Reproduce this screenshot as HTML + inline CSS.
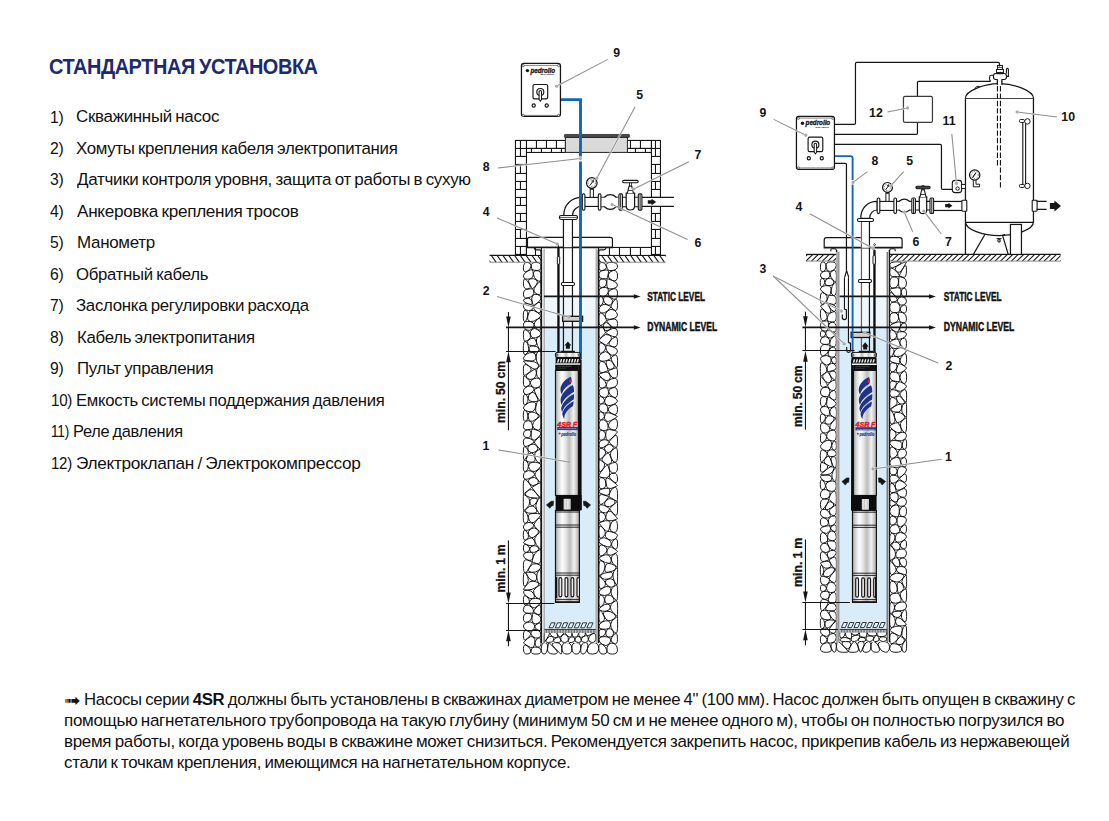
<!DOCTYPE html>
<html lang="ru">
<head>
<meta charset="utf-8">
<title>Стандартная установка</title>
<style>
html,body{margin:0;padding:0;background:#fff;}
body{width:1109px;height:821px;position:relative;overflow:hidden;font-family:"Liberation Sans",sans-serif;color:#111;}
.t{position:absolute;white-space:nowrap;transform-origin:0 0;margin:0;padding:0;line-height:20px;letter-spacing:-0.3px;word-spacing:-1px;}
h1.t{font-weight:bold;color:#1b2a72;letter-spacing:-0.5px;}
ol{list-style:none;margin:0;padding:0;}
b{font-weight:bold;}
</style>
</head>
<body>
<svg width="1109" height="821" viewBox="0 0 1109 821" font-family="'Liberation Sans', sans-serif" style="position:absolute;left:0;top:0">
<defs>
<linearGradient id="pg" x1="0" x2="1" y1="0" y2="0">
<stop offset="0" stop-color="#8d8d8d"/><stop offset="0.1" stop-color="#cfcfcf"/><stop offset="0.28" stop-color="#fdfdfd"/><stop offset="0.42" stop-color="#e9e9e9"/><stop offset="0.6" stop-color="#bdbdbd"/><stop offset="0.78" stop-color="#f1f1f1"/><stop offset="0.92" stop-color="#c4c4c4"/><stop offset="1" stop-color="#8a8a8a"/>
</linearGradient>
<linearGradient id="pgh" x1="0" x2="1" y1="0" y2="0">
<stop offset="0" stop-color="#555"/><stop offset="0.12" stop-color="#ddd"/><stop offset="0.3" stop-color="#fff"/><stop offset="0.42" stop-color="#bbb"/><stop offset="0.55" stop-color="#fff"/><stop offset="0.7" stop-color="#ccc"/><stop offset="0.85" stop-color="#fff"/><stop offset="1" stop-color="#555"/>
</linearGradient>
<linearGradient id="pgs" x1="0" x2="1" y1="0" y2="0">
<stop offset="0" stop-color="#c9c9c9"/><stop offset="0.4" stop-color="#f3f3f3"/><stop offset="1" stop-color="#c0c0c0"/>
</linearGradient>
</defs>
<g id="left-diagram">
<path d="M523.4,267.9Q523.4,273.4 527.3,271.2Q531.2,268.9 531.1,265.7Q530.9,262.4 527.2,262.4Q523.4,262.4 523.4,267.9Z M532.4,269.6Q531.4,268.9 531.3,265.7Q531.1,262.4 536.1,262.4Q541.1,262.4 541.1,266.5Q541.1,270.6 537.2,270.5Q533.3,270.3 532.4,269.6Z M530.4,278.7Q527.2,279.6 525.3,278.9Q523.4,278.2 523.4,275.9Q523.4,273.6 527.4,271.3Q531.3,269.1 532.2,269.8Q533.1,270.5 533.3,274.2Q533.6,277.8 530.4,278.7Z M533.5,274.2Q533.8,277.9 536.4,279.7Q539.0,281.6 540.0,281.3Q541.1,281.1 541.1,275.9Q541.1,270.8 537.2,270.7Q533.3,270.5 533.5,274.2Z M527.6,289.0Q523.4,289.4 523.4,283.9Q523.4,278.3 525.2,279.1Q527.1,279.8 529.4,284.1Q531.8,288.5 527.6,289.0Z M532.5,288.7Q531.9,288.4 529.6,284.1Q527.2,279.8 530.4,278.9Q533.7,278.0 536.3,279.9Q538.9,281.7 536.0,285.3Q533.1,288.9 532.5,288.7Z M533.7,291.2Q533.0,289.1 532.4,288.9Q531.8,288.6 527.6,289.1Q523.4,289.6 523.4,294.1Q523.4,298.5 527.1,298.0Q530.8,297.5 532.7,295.4Q534.5,293.3 533.7,291.2Z M533.9,291.1Q533.2,289.0 536.1,285.4Q539.0,281.8 540.1,281.6Q541.1,281.3 541.1,288.6Q541.2,295.9 537.9,294.5Q534.7,293.2 533.9,291.1Z M532.0,301.6Q530.8,297.7 527.1,298.2Q523.4,298.7 523.4,300.5Q523.4,302.3 528.3,303.9Q533.2,305.5 532.0,301.6Z M537.3,302.9Q533.5,305.7 533.4,305.6Q533.3,305.4 532.1,301.5Q531.0,297.6 532.8,295.5Q534.6,293.4 537.9,294.7Q541.1,296.0 541.1,298.1Q541.1,300.2 537.3,302.9Z M533.3,307.7Q533.3,309.5 530.9,310.2Q528.6,311.0 526.0,310.0Q523.4,309.1 523.4,305.7Q523.4,302.4 528.3,304.0Q533.2,305.6 533.3,305.7Q533.4,305.9 533.3,307.7Z M537.4,303.1Q541.1,300.3 541.1,307.6Q541.1,315.0 537.3,312.2Q533.5,309.5 533.5,307.7Q533.6,305.9 537.4,303.1Z M523.3,315.8Q523.3,309.2 525.9,310.2Q528.5,311.2 527.7,316.0Q526.8,320.8 525.1,321.6Q523.3,322.5 523.3,315.8Z M531.0,310.4Q528.7,311.2 527.8,316.0Q526.9,320.9 530.4,321.5Q533.8,322.0 537.5,319.1Q541.1,316.2 541.1,315.6Q541.1,315.1 537.2,312.4Q533.4,309.6 531.0,310.4Z M523.4,325.3Q523.4,322.6 525.1,321.8Q526.9,321.1 530.3,321.6Q533.7,322.2 534.0,324.6Q534.3,327.0 531.9,329.2Q529.5,331.5 526.4,329.8Q523.4,328.1 523.4,325.3Z M534.2,324.6Q533.9,322.2 537.5,319.2Q541.2,316.3 541.2,324.3Q541.2,332.2 537.8,329.6Q534.5,326.9 534.2,324.6Z M526.4,330.0Q523.3,328.2 523.4,334.6Q523.4,341.0 525.0,341.1Q526.7,341.2 528.9,339.6Q531.1,337.9 530.3,334.8Q529.4,331.7 526.4,330.0Z M530.4,334.8Q529.6,331.6 532.0,329.4Q534.5,327.1 537.8,329.8Q541.1,332.4 541.1,333.7Q541.1,335.1 538.3,336.6Q535.5,338.2 533.4,338.0Q531.3,337.9 530.4,334.8Z M529.0,339.7Q531.2,338.1 533.3,338.2Q535.4,338.4 536.4,342.2Q537.3,345.9 532.9,345.8Q528.6,345.6 527.7,343.5Q526.8,341.3 529.0,339.7Z M540.5,350.0Q541.2,350.0 541.2,342.6Q541.2,335.2 538.4,336.8Q535.6,338.4 536.5,342.2Q537.5,345.9 538.7,348.0Q539.9,350.0 540.5,350.0Z M526.2,354.2Q523.3,356.5 523.3,348.8Q523.4,341.2 525.0,341.3Q526.7,341.5 527.5,343.6Q528.4,345.8 528.8,348.8Q529.1,351.9 526.2,354.2Z M537.9,351.5Q539.8,350.1 538.6,348.1Q537.3,346.1 533.0,345.9Q528.6,345.8 529.0,348.9Q529.3,351.9 532.6,352.4Q536.0,352.8 537.9,351.5Z M536.0,357.2Q536.0,361.4 529.7,361.0Q523.4,360.6 523.4,358.6Q523.4,356.6 526.3,354.4Q529.2,352.1 532.6,352.5Q535.9,353.0 536.0,357.2Z M536.1,357.2Q536.2,361.4 537.9,363.6Q539.6,365.8 540.4,365.8Q541.2,365.8 541.2,358.0Q541.2,350.3 540.5,350.3Q539.9,350.3 538.0,351.6Q536.1,353.0 536.1,357.2Z M529.1,372.6Q533.6,369.5 528.5,365.8Q523.3,362.0 523.4,368.7Q523.4,375.3 524.0,375.5Q524.6,375.7 529.1,372.6Z M528.5,365.7Q533.7,369.4 534.9,369.2Q536.1,369.1 537.8,367.5Q539.5,365.9 537.7,363.7Q536.0,361.6 529.7,361.1Q523.4,360.7 523.4,361.3Q523.4,362.0 528.5,365.7Z M527.2,378.1Q524.7,375.8 529.2,372.7Q533.7,369.6 534.9,369.4Q536.2,369.2 536.4,373.2Q536.6,377.1 533.2,378.8Q529.8,380.5 527.2,378.1Z M538.0,367.6Q536.3,369.2 536.5,373.1Q536.7,377.0 538.9,378.2Q541.2,379.5 541.2,372.7Q541.2,366.0 540.4,366.0Q539.6,366.0 538.0,367.6Z M524.0,375.7Q523.4,375.5 523.4,382.0Q523.3,388.4 526.9,386.6Q530.5,384.8 530.1,382.7Q529.7,380.6 527.1,378.3Q524.6,375.9 524.0,375.7Z M533.3,379.0Q529.9,380.7 530.3,382.8Q530.7,384.8 532.6,386.8Q534.5,388.8 537.8,387.6Q541.1,386.3 541.1,383.0Q541.1,379.7 538.9,378.5Q536.7,377.3 533.3,379.0Z M534.1,389.9Q533.9,390.9 530.8,393.0Q527.7,395.1 525.5,394.3Q523.4,393.4 523.4,390.9Q523.4,388.5 527.0,386.7Q530.5,385.0 532.4,386.9Q534.3,388.9 534.1,389.9Z M536.4,395.6Q534.2,390.9 534.3,390.0Q534.5,389.0 537.8,387.7Q541.1,386.5 541.1,393.5Q541.2,400.5 539.9,400.4Q538.7,400.3 536.4,395.6Z M528.0,398.5Q528.5,401.7 525.9,404.3Q523.3,406.9 523.3,400.2Q523.3,393.6 525.5,394.5Q527.6,395.4 528.0,398.5Z M528.2,398.5Q527.7,395.3 530.9,393.1Q534.0,391.0 536.3,395.7Q538.6,400.4 537.7,401.0Q536.7,401.7 532.7,401.7Q528.7,401.7 528.2,398.5Z M523.4,408.0Q523.4,407.0 526.0,404.4Q528.6,401.9 532.6,401.9Q536.7,401.8 535.6,406.8Q534.5,411.7 531.1,411.8Q527.8,411.8 525.6,410.4Q523.4,408.9 523.4,408.0Z M537.4,413.8Q534.7,411.7 535.8,406.8Q536.8,401.9 537.8,401.2Q538.7,400.5 539.9,400.6Q541.2,400.7 541.2,408.4Q541.2,416.0 540.6,415.9Q540.1,415.9 537.4,413.8Z M525.5,410.5Q523.3,409.1 523.3,415.7Q523.3,422.4 525.8,421.1Q528.2,419.8 527.9,415.9Q527.7,412.0 525.5,410.5Z M530.3,421.1Q532.2,422.3 536.1,419.2Q540.0,416.0 537.3,414.0Q534.6,411.9 531.2,412.0Q527.8,412.0 528.1,415.9Q528.3,419.8 530.3,421.1Z M525.8,421.3Q528.3,420.0 530.2,421.3Q532.1,422.5 532.4,425.6Q532.7,428.7 532.1,429.0Q531.4,429.3 527.4,429.7Q523.4,430.1 523.4,426.4Q523.4,422.6 525.8,421.3Z M532.6,425.6Q532.3,422.5 536.2,419.3Q540.0,416.1 540.6,416.2Q541.1,416.2 541.1,423.8Q541.2,431.4 537.0,430.0Q532.9,428.7 532.6,425.6Z M531.0,433.8Q530.5,438.1 527.0,437.8Q523.4,437.5 523.4,433.9Q523.4,430.3 527.4,429.9Q531.4,429.5 531.0,433.8Z M537.0,430.2Q532.8,428.9 532.2,429.2Q531.6,429.5 531.1,433.8Q530.7,438.1 532.5,439.8Q534.3,441.5 537.7,438.0Q541.1,434.4 541.1,433.0Q541.1,431.5 537.0,430.2Z M523.4,441.8Q523.4,437.7 527.0,438.0Q530.5,438.3 532.4,440.0Q534.2,441.6 534.1,442.0Q534.1,442.4 530.3,444.7Q526.6,446.9 525.0,446.4Q523.4,445.9 523.4,441.8Z M534.3,442.1Q534.3,442.5 536.8,445.7Q539.4,449.0 540.3,449.2Q541.1,449.4 541.2,442.0Q541.2,434.5 537.8,438.1Q534.4,441.7 534.3,442.1Z M524.9,446.6Q526.5,447.1 527.9,449.9Q529.2,452.6 527.2,456.2Q525.1,459.8 524.2,459.9Q523.3,459.9 523.3,453.0Q523.3,446.0 524.9,446.6Z M530.4,444.8Q534.2,442.6 536.7,445.8Q539.3,449.1 536.5,451.0Q533.8,452.9 531.6,452.7Q529.4,452.5 528.0,449.8Q526.6,447.1 530.4,444.8Z M526.9,461.2Q525.2,459.9 527.3,456.3Q529.4,452.7 531.6,452.9Q533.7,453.1 534.9,457.4Q536.0,461.7 532.3,462.1Q528.6,462.5 526.9,461.2Z M540.3,449.4Q539.4,449.3 536.6,451.2Q533.9,453.1 535.0,457.4Q536.1,461.7 538.7,462.8Q541.2,463.8 541.2,456.7Q541.1,449.6 540.3,449.4Z M524.2,460.1Q523.4,460.1 523.3,466.5Q523.3,473.0 525.9,471.3Q528.4,469.6 528.4,466.1Q528.4,462.7 526.8,461.4Q525.1,460.1 524.2,460.1Z M531.7,471.1Q528.5,469.6 528.6,466.1Q528.6,462.7 532.4,462.3Q536.1,461.9 538.6,463.0Q541.1,464.0 541.1,465.2Q541.1,466.5 538.0,469.6Q534.8,472.7 531.7,471.1Z M523.4,475.9Q523.4,473.2 525.9,471.5Q528.4,469.8 531.6,471.3Q534.7,472.8 534.7,474.4Q534.7,475.9 530.8,477.8Q527.0,479.7 525.2,479.2Q523.4,478.7 523.4,475.9Z M537.4,479.2Q540.0,482.4 540.6,482.5Q541.2,482.7 541.2,474.6Q541.2,466.6 538.0,469.7Q534.9,472.9 534.9,474.4Q534.9,476.0 537.4,479.2Z M529.3,483.6Q531.7,487.2 531.6,487.4Q531.6,487.5 527.6,490.8Q523.6,494.1 523.5,494.1Q523.4,494.1 523.3,486.5Q523.3,478.9 525.1,479.4Q526.9,480.0 529.3,483.6Z M529.4,483.5Q527.0,479.9 530.9,478.0Q534.7,476.1 537.3,479.3Q539.9,482.5 535.9,484.8Q531.9,487.1 529.4,483.5Z M535.7,492.6Q531.7,487.6 527.7,490.9Q523.7,494.2 526.8,496.1Q529.9,498.0 534.3,498.0Q538.8,498.1 539.2,497.9Q539.7,497.6 535.7,492.6Z M536.0,484.9Q531.9,487.3 531.9,487.4Q531.8,487.6 535.8,492.6Q539.8,497.6 540.5,497.5Q541.2,497.5 541.1,490.2Q541.1,482.9 540.6,482.8Q540.0,482.6 536.0,484.9Z M523.3,502.4Q523.3,510.5 523.7,510.5Q524.0,510.6 526.8,508.1Q529.7,505.7 529.7,501.9Q529.8,498.1 526.7,496.2Q523.6,494.3 523.5,494.3Q523.3,494.3 523.3,502.4Z M529.9,501.9Q529.9,498.1 534.3,498.2Q538.8,498.2 536.7,502.0Q534.6,505.7 532.2,505.7Q529.9,505.7 529.9,501.9Z M525.9,512.1Q524.1,510.7 526.9,508.3Q529.8,505.9 532.2,505.9Q534.6,505.9 536.4,509.5Q538.2,513.1 532.9,513.3Q527.6,513.5 525.9,512.1Z M539.8,513.7Q538.4,513.0 536.6,509.4Q534.8,505.8 536.8,502.0Q538.9,498.3 539.4,498.0Q539.8,497.8 540.5,497.8Q541.2,497.7 541.2,506.1Q541.2,514.4 539.8,513.7Z M523.7,510.8Q523.3,510.7 523.3,517.7Q523.3,524.8 526.1,523.1Q528.9,521.5 528.2,517.6Q527.5,513.7 525.7,512.2Q524.0,510.8 523.7,510.8Z M531.3,522.6Q529.1,521.5 528.4,517.6Q527.7,513.6 533.0,513.4Q538.3,513.3 539.7,513.9Q541.1,514.6 541.1,514.8Q541.1,515.0 537.3,519.4Q533.6,523.7 531.3,522.6Z M523.4,527.0Q523.4,524.9 526.2,523.3Q529.0,521.7 531.2,522.8Q533.5,523.8 533.8,525.1Q534.2,526.4 530.7,528.8Q527.2,531.2 525.3,530.1Q523.4,529.0 523.4,527.0Z M534.1,525.1Q534.4,526.4 537.2,529.1Q540.0,531.9 540.6,531.9Q541.1,531.9 541.2,523.5Q541.2,515.1 537.4,519.5Q533.7,523.8 534.1,525.1Z M528.3,534.4Q529.5,537.5 526.4,539.6Q523.3,541.8 523.3,535.5Q523.3,529.2 525.2,530.3Q527.1,531.4 528.3,534.4Z M530.8,528.9Q534.3,526.5 537.1,529.3Q539.9,532.0 536.7,534.9Q533.5,537.9 531.6,537.7Q529.7,537.5 528.5,534.4Q527.3,531.3 530.8,528.9Z M523.4,542.5Q523.4,543.0 526.7,544.6Q530.0,546.2 533.1,545.6Q536.1,545.0 534.8,541.6Q533.5,538.1 531.5,537.9Q529.6,537.7 526.5,539.8Q523.4,541.9 523.4,542.5Z M534.9,541.5Q536.2,545.0 538.3,547.1Q540.3,549.1 540.7,549.2Q541.2,549.3 541.2,540.7Q541.2,532.1 540.6,532.1Q540.0,532.1 536.8,535.1Q533.7,538.0 534.9,541.5Z M523.4,548.0Q523.4,543.1 526.7,544.8Q530.0,546.4 529.6,549.1Q529.3,551.8 526.3,552.3Q523.4,552.9 523.4,548.0Z M529.8,549.1Q529.5,551.8 531.8,552.3Q534.2,552.9 537.2,551.1Q540.2,549.2 538.2,547.2Q536.1,545.2 533.1,545.8Q530.2,546.4 529.8,549.1Z M526.4,552.5Q529.3,552.0 531.7,552.5Q534.1,553.1 533.0,557.4Q531.9,561.7 527.6,559.9Q523.4,558.1 523.4,555.6Q523.4,553.1 526.4,552.5Z M541.1,557.2Q541.1,549.5 540.7,549.4Q540.3,549.4 537.3,551.2Q534.3,553.1 533.1,557.4Q532.0,561.7 532.2,562.0Q532.4,562.3 536.8,563.6Q541.1,564.9 541.1,557.2Z M529.5,567.2Q532.3,562.5 532.1,562.2Q531.9,561.9 527.6,560.1Q523.4,558.3 523.4,565.2Q523.4,572.2 524.6,572.3Q525.7,572.4 526.2,572.2Q526.7,571.9 529.5,567.2Z M536.8,563.8Q532.4,562.5 529.6,567.2Q526.7,571.9 531.6,572.3Q536.4,572.6 538.8,570.2Q541.1,567.9 541.1,566.4Q541.1,565.0 536.8,563.8Z M531.5,572.4Q526.7,572.1 526.3,572.3Q525.8,572.6 527.8,576.5Q529.8,580.3 533.3,581.0Q536.9,581.6 536.6,577.2Q536.4,572.7 531.5,572.4Z M536.8,577.2Q536.5,572.8 538.8,570.4Q541.2,568.0 541.2,576.3Q541.2,584.7 540.8,584.6Q540.4,584.5 538.7,583.0Q537.1,581.6 536.8,577.2Z M527.7,576.5Q529.6,580.4 526.5,584.8Q523.3,589.2 523.3,580.8Q523.3,572.4 524.5,572.5Q525.7,572.7 527.7,576.5Z M527.8,590.0Q532.1,590.0 536.2,587.3Q540.3,584.6 538.6,583.2Q536.9,581.8 533.3,581.1Q529.7,580.5 526.6,584.9Q523.4,589.3 523.4,589.6Q523.4,590.0 527.8,590.0Z M532.7,598.5Q535.4,597.9 533.8,594.1Q532.1,590.2 527.7,590.2Q523.4,590.1 523.4,591.9Q523.4,593.6 526.7,596.4Q529.9,599.2 532.7,598.5Z M533.9,594.0Q535.6,597.9 538.4,598.5Q541.2,599.2 541.2,592.1Q541.1,584.9 540.8,584.8Q540.4,584.7 536.3,587.4Q532.3,590.1 533.9,594.0Z M526.1,605.0Q523.4,605.7 523.4,599.7Q523.3,593.7 526.6,596.5Q529.9,599.3 529.4,601.8Q528.9,604.2 526.1,605.0Z M537.5,606.2Q533.9,609.5 531.5,606.9Q529.0,604.3 529.6,601.8Q530.1,599.3 532.8,598.7Q535.5,598.1 538.3,598.7Q541.1,599.4 541.1,601.1Q541.1,602.9 537.5,606.2Z M527.9,613.2Q523.4,613.1 523.4,609.5Q523.4,605.8 526.2,605.2Q528.9,604.5 531.3,607.0Q533.7,609.6 533.5,611.1Q533.3,612.5 532.8,612.9Q532.3,613.3 527.9,613.2Z M537.3,614.3Q541.1,616.2 541.1,609.6Q541.1,603.0 537.6,606.3Q534.0,609.6 533.7,611.1Q533.5,612.5 537.3,614.3Z M531.8,617.3Q531.3,621.1 527.3,622.1Q523.4,623.1 523.4,618.2Q523.4,613.3 527.9,613.4Q532.3,613.5 531.8,617.3Z M537.3,614.5Q533.4,612.7 533.0,613.1Q532.5,613.5 532.0,617.3Q531.5,621.2 533.2,623.0Q534.9,624.8 538.0,623.3Q541.1,621.7 541.1,619.0Q541.1,616.3 537.3,614.5Z M527.4,622.3Q523.4,623.2 523.4,626.1Q523.4,628.9 527.0,630.5Q530.7,632.1 532.6,630.2Q534.5,628.3 534.6,626.6Q534.8,625.0 533.1,623.2Q531.3,621.3 527.4,622.3Z M538.1,623.5Q541.1,621.9 541.1,626.9Q541.1,631.8 537.9,630.0Q534.7,628.3 534.8,626.6Q535.0,625.0 538.1,623.5Z M527.1,638.7Q523.4,642.5 523.4,635.8Q523.4,629.0 527.0,630.7Q530.6,632.3 530.7,633.7Q530.9,635.0 527.1,638.7Z M538.3,637.9Q535.6,638.7 533.3,636.9Q531.1,635.0 530.9,633.6Q530.8,632.3 532.7,630.4Q534.6,628.4 537.8,630.2Q541.1,632.0 541.1,634.5Q541.1,637.1 538.3,637.9Z M527.2,638.9Q523.4,642.6 523.4,642.8Q523.4,643.1 527.3,645.7Q531.2,648.4 532.7,647.4Q534.3,646.5 534.9,642.7Q535.5,638.9 533.2,637.0Q531.0,635.1 527.2,638.9Z M538.4,638.1Q541.1,637.2 541.1,642.5Q541.1,647.7 537.8,647.1Q534.5,646.5 535.1,642.7Q535.7,639.0 538.4,638.1Z M527.2,645.9Q523.4,643.2 523.4,648.7Q523.4,654.1 527.0,654.1Q530.5,654.1 530.8,651.3Q531.1,648.5 527.2,645.9Z M532.9,647.6Q531.3,648.5 531.0,651.3Q530.7,654.1 535.9,654.1Q541.1,654.1 541.1,651.0Q541.1,647.9 537.8,647.3Q534.4,646.7 532.9,647.6Z" fill="#fff" stroke="#111" stroke-width="0.95" stroke-linejoin="round"/>
<path d="M598.8,266.9Q598.8,271.3 603.0,270.3Q607.2,269.3 606.2,265.9Q605.2,262.4 602.0,262.4Q598.8,262.4 598.8,266.9Z M606.4,265.9Q607.4,269.3 608.3,270.2Q609.1,271.0 613.3,270.3Q617.5,269.6 617.5,266.0Q617.5,262.4 611.4,262.4Q605.3,262.4 606.4,265.9Z M598.8,275.1Q598.8,271.5 603.0,270.5Q607.2,269.5 608.1,270.3Q609.0,271.2 608.1,274.8Q607.3,278.4 607.0,278.6Q606.8,278.8 602.8,278.8Q598.8,278.8 598.8,275.1Z M608.3,274.8Q609.2,271.2 613.3,270.5Q617.5,269.8 617.5,276.0Q617.5,282.3 612.5,280.4Q607.4,278.5 608.3,274.8Z M602.6,287.4Q598.8,287.9 598.8,283.4Q598.8,279.0 602.8,279.0Q606.8,279.0 606.6,282.9Q606.4,286.9 602.6,287.4Z M613.3,288.6Q609.0,289.5 607.8,288.2Q606.6,286.9 606.8,283.0Q606.9,279.0 607.2,278.8Q607.4,278.6 612.4,280.5Q617.5,282.4 617.5,285.1Q617.5,287.8 613.3,288.6Z M608.1,292.4Q607.3,295.1 605.2,296.0Q603.2,296.9 601.0,296.1Q598.8,295.4 598.8,291.7Q598.8,288.1 602.6,287.6Q606.5,287.0 607.7,288.4Q608.9,289.7 608.1,292.4Z M610.6,297.5Q613.7,299.9 615.6,299.2Q617.5,298.6 617.5,293.3Q617.5,287.9 613.3,288.8Q609.1,289.7 608.3,292.5Q607.5,295.2 610.6,297.5Z M603.4,300.1Q603.7,303.1 601.2,305.3Q598.7,307.5 598.7,301.5Q598.7,295.5 600.9,296.3Q603.1,297.2 603.4,300.1Z M612.1,303.1Q613.6,300.0 610.5,297.7Q607.4,295.3 605.3,296.2Q603.2,297.1 603.5,300.1Q603.8,303.1 607.2,304.7Q610.7,306.2 612.1,303.1Z M607.4,310.9Q610.9,307.8 610.7,307.0Q610.6,306.3 607.2,304.8Q603.8,303.3 601.3,305.5Q598.8,307.7 598.8,309.7Q598.8,311.7 601.4,312.9Q604.0,314.0 607.4,310.9Z M615.6,299.4Q617.5,298.8 617.5,305.5Q617.5,312.3 614.3,310.0Q611.1,307.7 611.0,307.0Q610.8,306.2 612.3,303.2Q613.7,300.1 615.6,299.4Z M604.3,323.2Q602.3,325.4 600.5,325.4Q598.8,325.4 598.8,318.6Q598.8,311.9 601.4,313.1Q604.0,314.3 605.3,317.2Q606.6,320.2 606.4,320.5Q606.2,320.9 604.3,323.2Z M607.5,311.0Q611.0,307.9 614.2,310.2Q617.5,312.5 617.5,315.2Q617.5,318.0 612.1,319.0Q606.7,320.1 605.4,317.1Q604.1,314.2 607.5,311.0Z M603.9,328.8Q602.4,325.6 604.4,323.3Q606.4,321.1 609.4,324.5Q612.5,327.9 609.0,330.0Q605.5,332.1 603.9,328.8Z M609.5,324.4Q612.6,327.8 615.0,328.2Q617.5,328.7 617.5,323.4Q617.5,318.1 612.1,319.2Q606.8,320.2 606.6,320.6Q606.5,321.0 609.5,324.4Z M605.4,332.6Q605.4,332.9 602.1,336.7Q598.7,340.5 598.8,333.1Q598.8,325.6 600.5,325.6Q602.3,325.6 603.8,328.9Q605.4,332.2 605.4,332.6Z M617.5,332.7Q617.5,336.5 615.3,336.8Q613.1,337.0 609.4,335.0Q605.6,332.9 605.6,332.6Q605.6,332.3 609.1,330.1Q612.6,328.0 615.0,328.4Q617.5,328.9 617.5,332.7Z M606.4,345.2Q605.9,345.4 602.4,343.1Q598.8,340.9 598.8,340.7Q598.8,340.6 602.2,336.8Q605.5,333.1 609.3,335.1Q613.1,337.2 610.0,341.1Q606.9,345.0 606.4,345.2Z M615.4,337.0Q617.5,336.6 617.5,342.4Q617.5,348.1 612.3,346.5Q607.1,345.0 610.1,341.1Q613.2,337.3 615.4,337.0Z M602.3,343.3Q605.8,345.5 605.7,347.7Q605.7,350.0 602.2,352.6Q598.8,355.3 598.8,348.1Q598.8,341.0 602.3,343.3Z M612.3,346.7Q607.0,345.2 606.5,345.4Q606.0,345.5 605.9,347.8Q605.9,350.0 608.8,353.2Q611.7,356.4 614.6,354.9Q617.5,353.5 617.5,350.8Q617.5,348.2 612.3,346.7Z M598.8,358.3Q598.8,361.0 602.0,361.2Q605.1,361.3 607.7,360.2Q610.3,359.1 610.9,357.8Q611.6,356.5 608.7,353.3Q605.7,350.1 602.3,352.8Q598.8,355.5 598.8,358.3Z M611.2,357.9Q611.8,356.6 614.7,355.1Q617.6,353.7 617.6,360.8Q617.6,368.0 616.7,367.7Q615.9,367.4 613.2,363.3Q610.5,359.2 611.2,357.9Z M603.4,372.4Q598.8,373.9 598.8,367.6Q598.8,361.2 601.9,361.4Q605.1,361.6 606.7,366.1Q608.2,370.6 608.1,370.7Q608.0,370.8 603.4,372.4Z M612.1,369.0Q615.8,367.5 613.1,363.4Q610.4,359.3 607.8,360.4Q605.2,361.5 606.8,366.0Q608.3,370.5 612.1,369.0Z M598.8,374.5Q598.8,374.1 603.4,372.5Q608.0,371.0 609.7,374.6Q611.5,378.2 608.9,380.1Q606.3,382.1 602.6,378.5Q598.8,375.0 598.8,374.5Z M612.1,369.1Q608.4,370.7 608.3,370.8Q608.2,370.9 609.9,374.5Q611.6,378.1 614.6,378.1Q617.5,378.1 617.5,373.2Q617.5,368.2 616.7,367.9Q615.8,367.6 612.1,369.1Z M606.3,384.7Q606.3,382.2 602.5,378.7Q598.8,375.1 598.8,382.0Q598.8,388.9 602.5,388.0Q606.3,387.1 606.3,384.7Z M612.8,387.6Q608.2,388.7 607.3,387.9Q606.5,387.1 606.5,384.7Q606.5,382.2 609.0,380.3Q611.6,378.4 614.5,378.3Q617.5,378.3 617.5,382.4Q617.5,386.4 612.8,387.6Z M608.5,391.9Q608.9,394.9 607.0,396.6Q605.0,398.4 601.9,396.8Q598.8,395.2 598.8,392.1Q598.8,389.1 602.6,388.2Q606.4,387.3 607.2,388.1Q608.0,388.9 608.5,391.9Z M613.3,397.0Q617.5,399.2 617.5,392.9Q617.5,386.5 612.9,387.7Q608.2,388.9 608.7,391.9Q609.1,394.9 613.3,397.0Z M601.8,397.0Q598.8,395.4 598.8,400.1Q598.8,404.9 601.4,403.8Q604.1,402.8 604.5,400.7Q604.9,398.6 601.8,397.0Z M606.3,404.7Q608.3,406.7 612.9,404.7Q617.5,402.8 617.5,401.1Q617.5,399.3 613.3,397.2Q609.0,395.1 607.1,396.8Q605.1,398.6 604.7,400.7Q604.3,402.8 606.3,404.7Z M606.1,404.9Q608.1,406.8 607.9,409.3Q607.7,411.8 606.3,412.8Q605.0,413.7 601.9,412.1Q598.8,410.4 598.8,407.8Q598.8,405.1 601.5,404.0Q604.1,403.0 606.1,404.9Z M612.7,414.0Q607.9,411.8 608.1,409.3Q608.4,406.8 612.9,404.9Q617.5,403.0 617.5,409.6Q617.5,416.1 612.7,414.0Z M601.3,419.8Q598.8,420.7 598.8,415.6Q598.8,410.6 601.8,412.3Q604.9,413.9 604.4,416.4Q603.8,418.9 601.3,419.8Z M606.5,412.9Q607.9,412.0 612.7,414.1Q617.5,416.3 617.5,416.5Q617.5,416.7 612.7,419.6Q607.9,422.5 605.9,420.7Q604.0,418.9 604.6,416.4Q605.1,413.9 606.5,412.9Z M598.8,425.3Q598.8,429.7 602.2,430.3Q605.6,430.8 607.0,429.9Q608.4,428.9 608.1,425.8Q607.7,422.7 605.8,420.9Q603.9,419.1 601.3,420.0Q598.8,420.8 598.8,425.3Z M613.1,430.0Q617.5,431.0 617.5,423.9Q617.5,416.8 612.7,419.7Q608.0,422.7 608.3,425.8Q608.6,428.9 613.1,430.0Z M605.6,434.9Q605.6,431.0 602.2,430.5Q598.8,429.9 598.8,435.5Q598.8,441.1 602.2,440.0Q605.6,438.9 605.6,434.9Z M607.1,430.1Q605.7,431.0 605.7,434.9Q605.7,438.9 607.3,440.2Q608.8,441.5 613.1,436.9Q617.5,432.3 617.5,431.8Q617.5,431.2 613.0,430.1Q608.5,429.1 607.1,430.1Z M609.0,442.3Q608.7,441.6 607.1,440.3Q605.6,439.1 602.2,440.1Q598.8,441.2 598.8,444.5Q598.8,447.8 600.9,447.9Q603.0,448.1 606.1,445.6Q609.2,443.0 609.0,442.3Z M613.2,437.0Q608.9,441.6 609.2,442.3Q609.5,443.0 612.2,445.2Q614.9,447.4 616.2,447.5Q617.5,447.6 617.5,440.0Q617.6,432.4 613.2,437.0Z M599.6,459.4Q598.8,459.2 598.8,453.6Q598.8,447.9 600.9,448.2Q603.0,448.4 605.0,450.6Q607.0,452.9 603.7,456.2Q600.3,459.6 599.6,459.4Z M605.2,450.5Q607.2,452.8 608.3,452.7Q609.3,452.7 612.1,450.1Q614.9,447.6 612.1,445.4Q609.4,443.1 606.2,445.7Q603.1,448.3 605.2,450.5Z M608.2,453.0Q607.1,453.0 603.8,456.4Q600.4,459.7 603.5,462.1Q606.5,464.5 607.2,464.6Q607.9,464.7 610.2,463.6Q612.6,462.4 610.9,457.7Q609.3,452.9 608.2,453.0Z M612.2,450.3Q615.0,447.7 616.3,447.7Q617.5,447.8 617.6,455.0Q617.6,462.2 615.1,462.3Q612.7,462.3 611.1,457.6Q609.5,452.8 612.2,450.3Z M603.3,462.2Q606.3,464.7 602.5,469.7Q598.7,474.8 598.7,467.1Q598.7,459.4 599.5,459.6Q600.3,459.8 603.3,462.2Z M609.3,469.0Q610.6,473.1 614.1,473.0Q617.5,472.9 617.5,467.7Q617.5,462.4 615.1,462.5Q612.7,462.6 610.4,463.7Q608.1,464.9 609.3,469.0Z M598.8,475.8Q598.8,476.8 602.0,477.5Q605.3,478.1 606.7,477.8Q608.1,477.4 609.3,475.3Q610.4,473.2 609.2,469.1Q607.9,464.9 607.2,464.9Q606.4,464.8 602.6,469.8Q598.8,474.9 598.8,475.8Z M609.5,475.4Q610.6,473.3 614.1,473.2Q617.5,473.1 617.5,479.0Q617.5,484.9 612.9,481.2Q608.3,477.5 609.5,475.4Z M602.6,488.7Q598.8,489.7 598.8,483.4Q598.8,477.0 602.0,477.7Q605.2,478.3 605.8,483.0Q606.4,487.6 602.6,488.7Z M614.1,487.4Q617.5,485.9 617.5,485.4Q617.5,485.0 612.8,481.3Q608.2,477.6 606.8,478.0Q605.4,478.3 606.0,483.0Q606.6,487.6 608.6,488.3Q610.7,489.0 614.1,487.4Z M608.5,488.5Q610.5,489.1 609.7,492.8Q608.8,496.5 603.8,494.8Q598.8,493.1 598.8,491.5Q598.8,489.9 602.6,488.8Q606.4,487.8 608.5,488.5Z M617.3,501.4Q617.1,501.5 613.1,499.1Q609.1,496.8 609.0,496.7Q609.0,496.5 609.8,492.9Q610.7,489.2 614.1,487.6Q617.6,486.0 617.5,493.7Q617.5,501.4 617.3,501.4Z M605.9,500.6Q608.9,496.9 608.8,496.8Q608.7,496.6 603.8,494.9Q598.8,493.2 598.8,498.9Q598.8,504.6 600.8,504.5Q602.9,504.4 605.9,500.6Z M606.0,500.7Q603.0,504.4 606.3,506.2Q609.5,508.0 613.3,504.8Q617.0,501.6 613.0,499.3Q609.0,497.0 606.0,500.7Z M600.9,504.7Q602.9,504.6 606.2,506.4Q609.4,508.1 609.5,508.8Q609.6,509.6 607.7,511.7Q605.8,513.9 602.3,512.3Q598.8,510.7 598.8,507.7Q598.8,504.7 600.9,504.7Z M613.4,504.9Q617.1,501.7 617.3,501.6Q617.5,501.6 617.6,509.9Q617.6,518.2 613.7,513.8Q609.8,509.5 609.7,508.8Q609.7,508.1 613.4,504.9Z M602.1,521.5Q598.8,522.9 598.8,516.9Q598.8,510.9 602.2,512.5Q605.7,514.1 605.6,517.1Q605.5,520.1 602.1,521.5Z M614.2,520.1Q617.5,519.1 617.5,518.7Q617.5,518.3 613.6,514.0Q609.7,509.7 607.8,511.9Q605.9,514.1 605.8,517.1Q605.7,520.1 608.3,520.6Q611.0,521.1 614.2,520.1Z M602.2,521.7Q605.5,520.3 608.2,520.8Q610.9,521.2 609.9,526.1Q608.9,530.9 607.6,531.3Q606.3,531.7 602.5,527.4Q598.8,523.1 598.8,523.0Q598.8,523.0 602.2,521.7Z M617.5,526.4Q617.5,533.5 613.3,532.2Q609.1,530.9 610.1,526.1Q611.1,521.3 614.3,520.3Q617.5,519.3 617.5,526.4Z M598.7,531.3Q598.7,523.2 602.5,527.5Q606.2,531.9 605.1,534.2Q604.0,536.6 601.4,538.0Q598.8,539.4 598.7,531.3Z M607.7,531.5Q606.4,531.9 605.3,534.3Q604.1,536.7 608.0,539.1Q611.8,541.5 614.7,539.2Q617.5,536.9 617.5,535.2Q617.5,533.6 613.3,532.4Q609.1,531.1 607.7,531.5Z M598.8,541.4Q598.8,539.6 601.4,538.2Q604.0,536.8 607.9,539.2Q611.7,541.6 611.3,543.9Q610.9,546.2 609.5,546.9Q608.1,547.5 603.4,545.3Q598.8,543.2 598.8,541.4Z M614.3,548.5Q617.6,550.9 617.6,543.9Q617.6,537.0 614.7,539.3Q611.9,541.7 611.5,543.9Q611.1,546.2 614.3,548.5Z M603.4,545.5Q598.8,543.3 598.8,550.4Q598.8,557.5 602.3,555.6Q605.9,553.7 607.0,550.7Q608.0,547.7 603.4,545.5Z M614.2,548.7Q611.0,546.4 609.6,547.0Q608.2,547.7 607.1,550.7Q606.1,553.7 608.4,554.9Q610.6,556.1 614.0,554.0Q617.5,552.0 617.5,551.5Q617.5,551.0 614.2,548.7Z M611.2,559.9Q612.0,563.5 608.9,563.3Q605.7,563.1 602.3,561.0Q598.8,558.9 598.8,558.3Q598.8,557.6 602.4,555.8Q606.0,553.9 608.2,555.1Q610.5,556.2 611.2,559.9Z M617.5,567.1Q617.4,567.1 614.8,565.3Q612.1,563.5 611.4,559.9Q610.7,556.3 614.1,554.2Q617.6,552.1 617.6,559.6Q617.6,567.1 617.5,567.1Z M598.9,575.7Q599.1,575.7 601.5,574.3Q603.8,572.8 604.8,568.1Q605.7,563.3 602.2,561.2Q598.7,559.0 598.7,567.3Q598.7,575.7 598.9,575.7Z M604.9,568.1Q605.8,563.3 608.9,563.5Q612.0,563.7 614.7,565.5Q617.3,567.2 615.2,569.4Q613.1,571.5 608.5,572.2Q604.0,572.9 604.9,568.1Z M601.6,574.4Q599.2,575.8 601.7,578.0Q604.2,580.1 608.3,579.0Q612.5,577.8 612.8,574.7Q613.0,571.6 608.5,572.3Q604.0,573.0 601.6,574.4Z M617.5,567.3Q617.4,567.3 615.3,569.5Q613.2,571.7 612.9,574.7Q612.7,577.8 614.4,581.4Q616.1,585.0 616.9,585.0Q617.6,585.0 617.6,576.2Q617.6,567.3 617.5,567.3Z M605.3,582.8Q606.6,585.4 602.7,587.9Q598.7,590.5 598.7,583.2Q598.8,575.9 598.9,575.9Q599.1,575.9 601.6,578.1Q604.0,580.3 605.3,582.8Z M609.1,586.6Q606.8,585.4 605.5,582.8Q604.2,580.3 608.4,579.1Q612.6,578.0 614.3,581.5Q616.0,585.1 613.7,586.4Q611.5,587.8 609.1,586.6Z M610.8,591.0Q611.4,588.0 609.0,586.8Q606.7,585.6 602.8,588.1Q598.8,590.6 598.8,592.3Q598.8,594.1 601.6,595.0Q604.3,595.9 607.3,595.0Q610.2,594.0 610.8,591.0Z M613.0,597.2Q610.5,594.0 611.0,591.0Q611.6,588.0 613.8,586.6Q616.1,585.2 616.8,585.2Q617.6,585.2 617.6,593.0Q617.6,600.7 616.6,600.5Q615.6,600.3 613.0,597.2Z M601.5,595.2Q604.2,596.2 604.5,599.9Q604.8,603.6 601.8,606.2Q598.7,608.7 598.7,601.5Q598.7,594.3 601.5,595.2Z M607.4,595.2Q610.3,594.2 612.9,597.3Q615.5,600.4 612.9,602.3Q610.3,604.1 607.7,603.9Q605.0,603.6 604.7,599.9Q604.4,596.1 607.4,595.2Z M610.2,607.4Q610.3,604.3 607.6,604.1Q604.9,603.8 601.9,606.3Q598.8,608.8 598.8,609.0Q598.8,609.2 600.5,610.4Q602.2,611.6 606.2,611.1Q610.2,610.5 610.2,607.4Z M616.6,600.7Q615.6,600.5 613.0,602.4Q610.5,604.3 610.4,607.4Q610.4,610.5 613.8,613.4Q617.3,616.4 617.4,616.3Q617.6,616.3 617.6,608.6Q617.6,600.9 616.6,600.7Z M598.7,616.6Q598.7,623.8 602.2,621.9Q605.6,620.0 603.9,615.9Q602.1,611.9 600.4,610.6Q598.7,609.4 598.7,616.6Z M613.7,613.6Q617.2,616.5 613.9,618.9Q610.5,621.4 608.2,620.7Q605.8,619.9 604.0,615.9Q602.2,611.8 606.2,611.3Q610.3,610.7 613.7,613.6Z M608.5,628.6Q606.4,629.4 602.6,629.2Q598.8,628.9 598.8,626.4Q598.8,623.9 602.3,622.0Q605.7,620.2 608.1,620.9Q610.5,621.5 610.5,624.7Q610.6,627.8 608.5,628.6Z M612.8,630.5Q610.8,627.8 610.7,624.7Q610.7,621.6 614.0,619.1Q617.3,616.6 617.4,616.6Q617.6,616.5 617.6,624.9Q617.6,633.3 616.2,633.2Q614.9,633.2 612.8,630.5Z M602.6,629.3Q606.3,629.6 605.6,632.8Q604.9,636.0 601.8,636.6Q598.8,637.2 598.8,633.1Q598.8,629.0 602.6,629.3Z M608.6,628.8Q606.5,629.6 605.8,632.8Q605.1,636.0 608.1,636.9Q611.1,637.8 612.9,635.6Q614.8,633.3 612.7,630.6Q610.7,628.0 608.6,628.8Z M601.9,636.8Q598.8,637.4 598.8,639.7Q598.8,642.0 602.6,644.4Q606.3,646.8 608.5,644.4Q610.6,642.0 610.8,640.0Q611.0,638.0 608.0,637.1Q605.0,636.2 601.9,636.8Z M613.0,635.7Q614.9,633.4 616.2,633.5Q617.5,633.5 617.5,639.2Q617.5,645.0 614.2,643.5Q610.8,641.9 611.0,639.9Q611.2,637.9 613.0,635.7Z M602.5,644.5Q606.3,646.9 606.8,650.5Q607.3,654.1 603.0,654.1Q598.8,654.1 598.8,648.1Q598.8,642.1 602.5,644.5Z M607.0,650.5Q606.5,646.9 608.6,644.5Q610.8,642.1 614.1,643.6Q617.5,645.2 617.5,649.6Q617.5,654.1 612.5,654.1Q607.4,654.1 607.0,650.5Z" fill="#fff" stroke="#111" stroke-width="0.95" stroke-linejoin="round"/>
<path d="M541.3,648.4Q541.3,654.1 544.0,654.1Q546.8,654.1 547.5,648.3Q548.3,642.6 544.8,642.6Q541.3,642.6 541.3,648.4Z M547.6,648.4Q546.9,654.1 553.7,654.1Q560.5,654.1 554.8,648.4Q549.1,642.6 548.8,642.6Q548.4,642.6 547.6,648.4Z M555.5,642.6Q549.2,642.6 554.9,648.3Q560.6,654.1 561.2,654.1Q561.8,654.1 561.8,648.4Q561.7,642.6 555.5,642.6Z M571.8,648.4Q572.2,654.1 567.0,654.1Q561.9,654.1 561.9,648.3Q561.9,642.6 566.6,642.6Q571.4,642.6 571.8,648.4Z M571.9,648.3Q571.5,642.6 576.4,642.6Q581.2,642.6 580.7,648.3Q580.1,654.1 576.2,654.1Q572.3,654.1 571.9,648.3Z M587.5,648.3Q589.0,642.6 585.2,642.6Q581.4,642.6 580.8,648.4Q580.2,654.1 583.1,654.1Q585.9,654.1 587.5,648.3Z M587.6,648.4Q586.0,654.1 592.3,654.1Q598.6,654.1 598.6,648.4Q598.6,642.6 593.9,642.6Q589.2,642.6 587.6,648.4Z" fill="#fff" stroke="#111" stroke-width="0.95" stroke-linejoin="round"/>
<clipPath id="hl1"><rect x="489.6" y="255.4" width="51.6" height="7"/></clipPath>
<path d="M468.1,255.4L473,262.4M473.9,255.4L478.8,262.4M479.7,255.4L484.6,262.4M485.5,255.4L490.4,262.4M491.3,255.4L496.2,262.4M497.1,255.4L502,262.4M502.9,255.4L507.8,262.4M508.7,255.4L513.6,262.4M514.5,255.4L519.4,262.4M520.3,255.4L525.2,262.4M526.1,255.4L531,262.4M531.9,255.4L536.8,262.4M537.7,255.4L542.6,262.4M543.5,255.4L548.4,262.4" fill="none" stroke="#161616" stroke-width="1.04" clip-path="url(#hl1)"/>
<line x1="489.6" y1="255.45" x2="541.2" y2="255.45" stroke="#161616" stroke-width="1.34" />
<line x1="489.6" y1="262.2" x2="541.2" y2="262.2" stroke="#808080" stroke-width="0.9" />
<clipPath id="hl2"><rect x="598.7" y="255.4" width="67.1" height="7"/></clipPath>
<path d="M578.4,255.4L583.3,262.4M584.2,255.4L589.1,262.4M590,255.4L594.9,262.4M595.8,255.4L600.7,262.4M601.6,255.4L606.5,262.4M607.4,255.4L612.3,262.4M613.2,255.4L618.1,262.4M619,255.4L623.9,262.4M624.8,255.4L629.7,262.4M630.6,255.4L635.5,262.4M636.4,255.4L641.3,262.4M642.2,255.4L647.1,262.4M648,255.4L652.9,262.4M653.8,255.4L658.7,262.4M659.6,255.4L664.5,262.4M665.4,255.4L670.3,262.4" fill="none" stroke="#161616" stroke-width="1.04" clip-path="url(#hl2)"/>
<line x1="598.7" y1="255.45" x2="665.8" y2="255.45" stroke="#161616" stroke-width="1.34" />
<line x1="598.7" y1="262.2" x2="665.8" y2="262.2" stroke="#808080" stroke-width="0.9" />
<rect x="526.45" y="140.45" width="39" height="8" rx="0" fill="#fff" stroke="#161616" stroke-width="1.1" />
<line x1="536.45" y1="140.45" x2="536.45" y2="148.45" stroke="#161616" stroke-width="1.1" />
<line x1="546.45" y1="140.45" x2="546.45" y2="148.45" stroke="#161616" stroke-width="1.1" />
<line x1="556.45" y1="140.45" x2="556.45" y2="148.45" stroke="#161616" stroke-width="1.1" />
<rect x="526.45" y="148.45" width="39" height="4" rx="0" fill="#fff" stroke="#161616" stroke-width="1.1" />
<line x1="531.45" y1="148.45" x2="531.45" y2="152.45" stroke="#161616" stroke-width="1.1" />
<line x1="541.45" y1="148.45" x2="541.45" y2="152.45" stroke="#161616" stroke-width="1.1" />
<line x1="551.45" y1="148.45" x2="551.45" y2="152.45" stroke="#161616" stroke-width="1.1" />
<line x1="561.45" y1="148.45" x2="561.45" y2="152.45" stroke="#161616" stroke-width="1.1" />
<rect x="627.45" y="140.45" width="24" height="8" rx="0" fill="#fff" stroke="#161616" stroke-width="1.1" />
<line x1="630.45" y1="140.45" x2="630.45" y2="148.45" stroke="#161616" stroke-width="1.1" />
<line x1="640.45" y1="140.45" x2="640.45" y2="148.45" stroke="#161616" stroke-width="1.1" />
<rect x="627.45" y="148.45" width="24" height="4" rx="0" fill="#fff" stroke="#161616" stroke-width="1.1" />
<line x1="635.45" y1="148.45" x2="635.45" y2="152.45" stroke="#161616" stroke-width="1.1" />
<line x1="645.45" y1="148.45" x2="645.45" y2="152.45" stroke="#161616" stroke-width="1.1" />
<rect x="515.45" y="140.45" width="11" height="115" rx="0" fill="#fff" stroke="#161616" stroke-width="1.1" />
<line x1="520.45" y1="140.45" x2="520.45" y2="148.45" stroke="#161616" stroke-width="1.1" />
<line x1="515.45" y1="148.45" x2="526.45" y2="148.45" stroke="#161616" stroke-width="1.1" />
<line x1="520.45" y1="148.45" x2="520.45" y2="156.45" stroke="#161616" stroke-width="1.1" />
<line x1="515.45" y1="156.45" x2="526.45" y2="156.45" stroke="#161616" stroke-width="1.1" />
<line x1="515.45" y1="164.45" x2="526.45" y2="164.45" stroke="#161616" stroke-width="1.1" />
<line x1="520.45" y1="164.45" x2="520.45" y2="173.45" stroke="#161616" stroke-width="1.1" />
<line x1="515.45" y1="173.45" x2="526.45" y2="173.45" stroke="#161616" stroke-width="1.1" />
<line x1="515.45" y1="181.45" x2="526.45" y2="181.45" stroke="#161616" stroke-width="1.1" />
<line x1="520.45" y1="181.45" x2="520.45" y2="189.45" stroke="#161616" stroke-width="1.1" />
<line x1="515.45" y1="189.45" x2="526.45" y2="189.45" stroke="#161616" stroke-width="1.1" />
<line x1="515.45" y1="197.45" x2="526.45" y2="197.45" stroke="#161616" stroke-width="1.1" />
<line x1="520.45" y1="197.45" x2="520.45" y2="205.45" stroke="#161616" stroke-width="1.1" />
<line x1="515.45" y1="205.45" x2="526.45" y2="205.45" stroke="#161616" stroke-width="1.1" />
<line x1="515.45" y1="213.45" x2="526.45" y2="213.45" stroke="#161616" stroke-width="1.1" />
<line x1="520.45" y1="213.45" x2="520.45" y2="221.45" stroke="#161616" stroke-width="1.1" />
<line x1="515.45" y1="221.45" x2="526.45" y2="221.45" stroke="#161616" stroke-width="1.1" />
<line x1="515.45" y1="229.45" x2="526.45" y2="229.45" stroke="#161616" stroke-width="1.1" />
<line x1="520.45" y1="229.45" x2="520.45" y2="238.45" stroke="#161616" stroke-width="1.1" />
<line x1="515.45" y1="238.45" x2="526.45" y2="238.45" stroke="#161616" stroke-width="1.1" />
<line x1="515.45" y1="246.45" x2="526.45" y2="246.45" stroke="#161616" stroke-width="1.1" />
<line x1="520.45" y1="246.45" x2="520.45" y2="254.45" stroke="#161616" stroke-width="1.1" />
<line x1="515.45" y1="254.45" x2="526.45" y2="254.45" stroke="#161616" stroke-width="1.1" />
<rect x="651.45" y="140.45" width="9" height="115" rx="0" fill="#fff" stroke="#161616" stroke-width="1.1" />
<line x1="655.45" y1="140.45" x2="655.45" y2="148.45" stroke="#161616" stroke-width="1.1" />
<line x1="651.45" y1="148.45" x2="660.45" y2="148.45" stroke="#161616" stroke-width="1.1" />
<line x1="655.45" y1="148.45" x2="655.45" y2="156.45" stroke="#161616" stroke-width="1.1" />
<line x1="651.45" y1="156.45" x2="660.45" y2="156.45" stroke="#161616" stroke-width="1.1" />
<line x1="651.45" y1="164.45" x2="660.45" y2="164.45" stroke="#161616" stroke-width="1.1" />
<line x1="655.45" y1="164.45" x2="655.45" y2="173.45" stroke="#161616" stroke-width="1.1" />
<line x1="651.45" y1="173.45" x2="660.45" y2="173.45" stroke="#161616" stroke-width="1.1" />
<line x1="651.45" y1="181.45" x2="660.45" y2="181.45" stroke="#161616" stroke-width="1.1" />
<line x1="655.45" y1="181.45" x2="655.45" y2="189.45" stroke="#161616" stroke-width="1.1" />
<line x1="651.45" y1="189.45" x2="660.45" y2="189.45" stroke="#161616" stroke-width="1.1" />
<line x1="651.45" y1="197.45" x2="660.45" y2="197.45" stroke="#161616" stroke-width="1.1" />
<line x1="655.45" y1="197.45" x2="655.45" y2="205.45" stroke="#161616" stroke-width="1.1" />
<line x1="651.45" y1="205.45" x2="660.45" y2="205.45" stroke="#161616" stroke-width="1.1" />
<line x1="651.45" y1="213.45" x2="660.45" y2="213.45" stroke="#161616" stroke-width="1.1" />
<line x1="655.45" y1="213.45" x2="655.45" y2="221.45" stroke="#161616" stroke-width="1.1" />
<line x1="651.45" y1="221.45" x2="660.45" y2="221.45" stroke="#161616" stroke-width="1.1" />
<line x1="651.45" y1="229.45" x2="660.45" y2="229.45" stroke="#161616" stroke-width="1.1" />
<line x1="655.45" y1="229.45" x2="655.45" y2="238.45" stroke="#161616" stroke-width="1.1" />
<line x1="651.45" y1="238.45" x2="660.45" y2="238.45" stroke="#161616" stroke-width="1.1" />
<line x1="651.45" y1="246.45" x2="660.45" y2="246.45" stroke="#161616" stroke-width="1.1" />
<line x1="655.45" y1="246.45" x2="655.45" y2="254.45" stroke="#161616" stroke-width="1.1" />
<line x1="651.45" y1="254.45" x2="660.45" y2="254.45" stroke="#161616" stroke-width="1.1" />
<rect x="526.45" y="247.45" width="15" height="8" rx="0" fill="#fff" stroke="#161616" stroke-width="1.1" />
<line x1="535.45" y1="247.45" x2="535.45" y2="255.45" stroke="#161616" stroke-width="1.1" />
<rect x="598.45" y="247.45" width="53" height="8" rx="0" fill="#fff" stroke="#161616" stroke-width="1.1" />
<line x1="609.45" y1="247.45" x2="609.45" y2="255.45" stroke="#161616" stroke-width="1.1" />
<line x1="619.45" y1="247.45" x2="619.45" y2="255.45" stroke="#161616" stroke-width="1.1" />
<line x1="630.45" y1="247.45" x2="630.45" y2="255.45" stroke="#161616" stroke-width="1.1" />
<line x1="640.45" y1="247.45" x2="640.45" y2="255.45" stroke="#161616" stroke-width="1.1" />
<rect x="565.45" y="137.45" width="62" height="15" rx="0" fill="#dadada" stroke="#333" stroke-width="1.1" />
<rect x="564.45" y="134.45" width="65" height="3" rx="0.6" fill="#4a4a4a" stroke="#222" stroke-width="0.73" />
<rect x="541.4" y="250" width="57.1" height="393" rx="0" fill="#fff" stroke="none" stroke-width="0" />
<rect x="544.2" y="296.7" width="51.8" height="31" rx="0" fill="#f0f7fc" stroke="none" stroke-width="0" />
<rect x="544.2" y="327.6" width="51.8" height="302" rx="0" fill="#d8edf9" stroke="none" stroke-width="0" />
<path d="M544.2,636.3Q544.2,642.5 544.2,642.5Q544.2,642.5 546.9,638.6Q549.5,634.8 549.8,632.4Q550.1,630.1 547.2,630.1Q544.2,630.1 544.2,636.3Z M556.7,637.4Q558.8,636.9 556.8,633.5Q554.8,630.1 552.5,630.1Q550.2,630.1 550.0,632.4Q549.7,634.7 552.2,636.3Q554.7,638.0 556.7,637.4Z M559.4,637.0Q558.9,636.8 556.9,633.4Q555.0,630.1 560.0,630.1Q565.0,630.1 564.7,631.5Q564.5,632.9 562.2,635.1Q560.0,637.3 559.4,637.0Z M566.9,635.3Q564.7,632.9 564.9,631.5Q565.2,630.1 568.6,630.1Q572.1,630.1 572.0,633.3Q571.9,636.5 570.5,637.1Q569.1,637.6 566.9,635.3Z M573.5,637.0Q572.1,636.5 572.1,633.3Q572.2,630.1 575.5,630.1Q578.7,630.1 578.5,633.0Q578.4,635.9 576.6,636.7Q574.9,637.5 573.5,637.0Z M585.1,632.6Q586.2,635.1 583.5,636.5Q580.9,637.9 579.7,636.9Q578.6,635.9 578.7,633.0Q578.8,630.1 581.5,630.1Q584.1,630.1 585.1,632.6Z M587.3,635.6Q586.4,635.1 585.3,632.6Q584.2,630.0 590.1,630.0Q595.9,630.0 595.9,630.9Q595.9,631.7 592.0,633.9Q588.2,636.0 587.3,635.6Z M553.5,640.3Q552.4,642.5 548.4,642.5Q544.3,642.5 547.0,638.7Q549.6,634.9 552.1,636.5Q554.7,638.1 553.5,640.3Z M559.3,637.2Q558.8,637.0 556.8,637.6Q554.9,638.1 553.7,640.3Q552.6,642.5 557.0,642.5Q561.5,642.5 560.7,640.0Q559.8,637.5 559.3,637.2Z M562.3,635.2Q560.1,637.4 560.9,640.0Q561.7,642.5 564.6,642.5Q567.5,642.5 568.3,640.1Q569.0,637.8 566.8,635.4Q564.6,633.0 562.3,635.2Z M570.6,637.2Q572.0,636.7 573.4,637.2Q574.8,637.7 574.8,640.1Q574.8,642.5 571.2,642.5Q567.6,642.5 568.4,640.2Q569.3,637.8 570.6,637.2Z M581.2,640.3Q580.8,638.0 579.6,637.0Q578.4,636.0 576.7,636.9Q575.0,637.7 575.0,640.1Q575.0,642.5 578.4,642.5Q581.7,642.5 581.2,640.3Z M587.2,635.8Q586.3,635.3 583.6,636.6Q581.0,638.0 581.4,640.3Q581.9,642.5 585.2,642.5Q588.6,642.5 588.3,639.4Q588.1,636.2 587.2,635.8Z M592.1,634.0Q595.9,631.8 595.9,637.2Q595.9,642.5 592.3,642.5Q588.8,642.5 588.5,639.4Q588.3,636.2 592.1,634.0Z" fill="#fff" stroke="#111" stroke-width="0.95" stroke-linejoin="round"/>
<rect x="544.2" y="629.6" width="51.8" height="3.4" rx="0" fill="#777" stroke="none" stroke-width="0" />
<path d="M544.2,631.3H596" fill="none" stroke="#fff" stroke-width="3.66" stroke-dasharray="1.3 1.5" stroke-opacity="0.55"/>
<line x1="544.2" y1="629.45" x2="596" y2="629.45" stroke="#333" stroke-width="0.98" />
<path d="M551.2,622.8H555.11L552.91,627.8H549ZM557.51,622.8H561.43L559.23,627.8H555.31ZM563.83,622.8H567.74L565.54,627.8H561.63ZM570.14,622.8H574.06L571.86,627.8H567.94ZM576.46,622.8H580.37L578.17,627.8H574.26ZM582.77,622.8H586.69L584.49,627.8H580.57ZM589.09,622.8H593L590.8,627.8H586.89Z" fill="#e4f2fb" stroke="#161616" stroke-width="0.85" stroke-linejoin="miter"/>
<line x1="541.3" y1="250" x2="541.3" y2="643" stroke="#161616" stroke-width="1.7" />
<line x1="598.5" y1="250" x2="598.5" y2="643" stroke="#161616" stroke-width="1.7" />
<line x1="544.1" y1="249" x2="544.1" y2="643" stroke="#7c7c7c" stroke-width="0.9" />
<line x1="596.2" y1="249" x2="596.2" y2="643" stroke="#7c7c7c" stroke-width="0.9" />
<path d="M541.3,252.5V251.6Q541.3,249.9 539.6,249.9H536.2Q534.6,249.9 534.2,248.2" fill="none" stroke="#161616" stroke-width="1.16" />
<path d="M598.5,252.5V251.6Q598.5,249.9 600.2,249.9H603.8Q605.4,249.9 605.8,248.2" fill="none" stroke="#161616" stroke-width="1.16" />
<path d="M527.45,247.45V239.4Q527.45,237.45 529.6,237.45H610.2Q612.45,237.45 612.45,239.4V247.45Z" fill="#fff" stroke="#161616" stroke-width="1.22" />
<line x1="526.4" y1="247.45" x2="613" y2="247.45" stroke="#161616" stroke-width="1.46" />
<line x1="558.45" y1="247.2" x2="558.45" y2="353" stroke="#0c0c0c" stroke-width="2.32" />
<line x1="558.45" y1="244.6" x2="558.45" y2="257" stroke="#161616" stroke-width="0.98" />
<rect x="557.3" y="256.6" width="2.4" height="7.6" rx="0.6" fill="#fff" stroke="#161616" stroke-width="0.98" />
<rect x="563.8" y="219.8" width="8.7" height="132" rx="0" fill="none" stroke="none" stroke-width="0" />
<rect x="563.8" y="219.8" width="8.7" height="27.4" rx="0" fill="#fff" stroke="none" stroke-width="0" />
<line x1="563.45" y1="219.8" x2="563.45" y2="352" stroke="#161616" stroke-width="1.22" />
<line x1="572.45" y1="219.8" x2="572.45" y2="352" stroke="#161616" stroke-width="1.22" />
<rect x="561.45" y="282.45" width="13" height="3" rx="1.2" fill="#fff" stroke="#161616" stroke-width="1.1" />
<path d="M567.9,341.6L571.4,345.6H569.9V348.8H565.9V345.6H564.4Z" fill="#161616" stroke="none" stroke-width="0" />
<rect x="562.6" y="316.3" width="20" height="5" rx="0" fill="#cfcfcf" stroke="#111" stroke-width="1.28" />
<path d="M563.8,215.6C563.8,205 571,197.4 582.2,197.4V206.2C577,206.2 572.5,210 572.5,215.6Z" fill="#fff" stroke="#161616" stroke-width="1.22" />
<rect x="559.45" y="215.45" width="18" height="4" rx="1.6" fill="#fff" stroke="#161616" stroke-width="1.1" />
<line x1="559.6" y1="217.45" x2="576.8" y2="217.45" stroke="#161616" stroke-width="0.73" />
<rect x="583.5" y="197.3" width="90.4" height="9.4" rx="0" fill="#fff" stroke="none" stroke-width="0" />
<line x1="583.5" y1="197.45" x2="599.6" y2="197.45" stroke="#161616" stroke-width="1.16" />
<line x1="583.5" y1="206.45" x2="599.6" y2="206.45" stroke="#161616" stroke-width="1.16" />
<path d="M599.6,197.3H620.7M599.6,206.7H620.7" fill="none" stroke="#161616" stroke-width="1.1" />
<circle cx="610.3" cy="202" r="7.4" fill="#fff" stroke="#161616" stroke-width="1.22" />
<rect x="599.6" y="197.8" width="21.1" height="8.4" rx="0" fill="#fff" stroke="none" stroke-width="0" />
<path d="M620.7,197.3H640.1M620.7,206.7H640.1" fill="none" stroke="#161616" stroke-width="1.1" />
<path d="M626.2,193.2H634.6V206Q634.6,210 630.4,210Q626.2,210 626.2,206Z" fill="#fff" stroke="#161616" stroke-width="1.22" />
<path d="M627.4,193.2L629.1,186H631.7L633.4,193.2" fill="#fff" stroke="#161616" stroke-width="1.1" />
<line x1="628" y1="190.45" x2="632.8" y2="190.45" stroke="#161616" stroke-width="0.85" />
<rect x="629.5" y="182" width="1.8" height="4" rx="0" fill="#fff" stroke="#161616" stroke-width="0.85" />
<rect x="622.6" y="180.4" width="15.6" height="2.4" rx="1.2" fill="#fff" stroke="#161616" stroke-width="1.1" />
<line x1="641.8" y1="197.45" x2="673.9" y2="197.45" stroke="#161616" stroke-width="1.22" />
<line x1="641.8" y1="206.45" x2="673.9" y2="206.45" stroke="#161616" stroke-width="1.22" />
<rect x="582.3" y="193.9" width="2.6" height="16.2" rx="1.1" fill="#fff" stroke="#161616" stroke-width="1.1" />
<rect x="598.3" y="193.9" width="2.6" height="16.2" rx="1.1" fill="#fff" stroke="#161616" stroke-width="1.1" />
<rect x="618.9" y="193.9" width="3.6" height="16.2" rx="1" fill="#fff" stroke="#161616" stroke-width="1.1" />
<line x1="620.7" y1="194.4" x2="620.7" y2="209.6" stroke="#161616" stroke-width="0.98" />
<rect x="638.3" y="193.9" width="3.6" height="16.2" rx="1" fill="#fff" stroke="#161616" stroke-width="1.1" />
<line x1="640.1" y1="194.4" x2="640.1" y2="209.6" stroke="#161616" stroke-width="0.98" />
<rect x="590.2" y="188.9" width="3.2" height="8.4" rx="0" fill="#fff" stroke="#161616" stroke-width="0.98" />
<rect x="590.9" y="187.9" width="1.8" height="1.4" rx="0" fill="#fff" stroke="#161616" stroke-width="0.85" />
<circle cx="591.8" cy="183" r="5.3" fill="#fff" stroke="#161616" stroke-width="1.22" />
<path d="M590,185.4L592.8,181.4M591.4,181.1L593.4,180.6L593.1,182.6" fill="none" stroke="#161616" stroke-width="0.98" />
<circle cx="591.8" cy="183" r="3.7" fill="none" stroke="#161616" stroke-width="0.61" stroke-dasharray="1.2 1.4"/>
<path d="M647.8,200.3H651.58V198.8L656.2,202L651.58,205.2V203.7H647.8Z" fill="#161616" stroke="none" stroke-width="0" />
<path d="M560.6,99.6H580.5V156.6M580.5,161.6V359" fill="none" stroke="#0d69b6" stroke-width="2.9" stroke-linejoin="miter"/>
<rect x="521.45" y="63.45" width="39" height="53" rx="2.4" fill="#fff" stroke="#161616" stroke-width="1.28" />
<line x1="523.9" y1="65.4" x2="557.5" y2="65.4" stroke="#777" stroke-width="0.9" />
<line x1="523.9" y1="115.4" x2="557.5" y2="115.4" stroke="#777" stroke-width="0.9" />
<circle cx="523.2" cy="65.6" r="1.1" fill="#fff" stroke="#161616" stroke-width="0.6" />
<circle cx="558.6" cy="65.6" r="1.1" fill="#fff" stroke="#161616" stroke-width="0.6" />
<circle cx="523.2" cy="115.4" r="1.1" fill="#fff" stroke="#161616" stroke-width="0.6" />
<circle cx="558.6" cy="115.4" r="1.1" fill="#fff" stroke="#161616" stroke-width="0.6" />
<circle cx="527.4" cy="70.6" r="1.7" fill="#161616" stroke="none" stroke-width="0" />
<text x="530.5" y="72.7" font-size="7" font-weight="bold" fill="#1a1a1a" text-anchor="start" textLength="24.6" lengthAdjust="spacingAndGlyphs" font-style="italic" stroke="#1a1a1a" stroke-width="0.35">pedrollo</text>
<text x="540.5" y="75" font-size="2.4" font-weight="bold" fill="#222" text-anchor="start" textLength="13.4" lengthAdjust="spacingAndGlyphs" >QES 1Mono</text>
<rect x="533" y="84.5" width="14.7" height="14.4" rx="1.6" fill="#fff" stroke="#161616" stroke-width="1.16" />
<circle cx="540.3" cy="92" r="3.5" fill="#fff" stroke="#161616" stroke-width="1.16" />
<path d="M539.1,91.3Q540.3,89.9 541.5,91.3L541.5,99.5L540.3,101.1L539.1,99.5Z" fill="#fff" stroke="#161616" stroke-width="1.04" />
<circle cx="533.7" cy="105.5" r="1.6" fill="#fff" stroke="#161616" stroke-width="1.16" />
<circle cx="546.7" cy="105.5" r="1.6" fill="#fff" stroke="#161616" stroke-width="1.16" />
<rect x="578.3" y="359.5" width="3.3" height="150.5" rx="0" fill="#0c0c0c" stroke="none" stroke-width="0" />
<line x1="560.45" y1="351.45" x2="574.95" y2="351.45" stroke="#161616" stroke-width="1.34" />
<rect x="555.45" y="352.45" width="25" height="5" rx="1.6" fill="url(#pgh)" stroke="#161616" stroke-width="0.98" />
<circle cx="557.4" cy="355" r="0.7" fill="#fff" stroke="#161616" stroke-width="0.61" />
<circle cx="578.9" cy="355" r="0.7" fill="#fff" stroke="#161616" stroke-width="0.61" />
<rect x="555.6" y="357.2" width="25.1" height="7" rx="0" fill="#111" stroke="none" stroke-width="0" />
<path d="M557,362.4L558,359H559.39L558.59,362.4ZM559.79,362.4L560.79,359H562.18L561.38,362.4ZM562.57,362.4L563.57,359H564.96L564.16,362.4ZM565.36,362.4L566.36,359H567.75L566.95,362.4ZM568.15,362.4L569.15,359H570.54L569.74,362.4ZM570.94,362.4L571.94,359H573.33L572.52,362.4ZM573.72,362.4L574.72,359H576.11L575.31,362.4ZM576.51,362.4L577.51,359H578.9L578.1,362.4Z" fill="#ececec" stroke="none" stroke-width="0" />
<rect x="556.1" y="363.3" width="24.1" height="1.5" rx="0" fill="#f6f6f6" stroke="none" stroke-width="0" />
<rect x="555.2" y="364.8" width="23.5" height="5.8" rx="0" fill="#0e0e0e" stroke="none" stroke-width="0" />
<line x1="557.6" y1="366.4" x2="571.3" y2="366.4" stroke="#6a6a6a" stroke-width="0.5" />
<line x1="556.6" y1="368.2" x2="566.3" y2="368.2" stroke="#555" stroke-width="0.5" />
<rect x="555.45" y="370.45" width="23" height="125" rx="0" fill="url(#pg)" stroke="#161616" stroke-width="1.1" />
<rect x="555.6" y="495.2" width="26" height="15.2" rx="0" fill="#0c0c0c" stroke="none" stroke-width="0" />
<rect x="563.55" y="498.8" width="7.2" height="10.8" rx="0" fill="url(#pgs)" stroke="none" stroke-width="0" />
<line x1="566.35" y1="498.8" x2="566.35" y2="509.6" stroke="#9a9a9a" stroke-width="0.5" />
<rect x="555.45" y="510.45" width="24" height="92" rx="0" fill="url(#pg)" stroke="#161616" stroke-width="1.1" />
<line x1="555.4" y1="512" x2="579.2" y2="512" stroke="#161616" stroke-width="0.92" />
<line x1="555.4" y1="525" x2="579.2" y2="525" stroke="#161616" stroke-width="0.92" />
<line x1="555.4" y1="527.2" x2="579.2" y2="527.2" stroke="#161616" stroke-width="0.92" />
<line x1="555.4" y1="573" x2="579.2" y2="573" stroke="#161616" stroke-width="0.92" />
<line x1="555.4" y1="575.2" x2="579.2" y2="575.2" stroke="#161616" stroke-width="0.92" />
<line x1="555.4" y1="599.4" x2="579.2" y2="599.4" stroke="#161616" stroke-width="0.92" />
<line x1="555.4" y1="601.4" x2="579.2" y2="601.4" stroke="#161616" stroke-width="0.92" />
<clipPath id="pgc555"><rect x="555.8" y="576.4" width="23" height="22"/></clipPath>
<rect x="559" y="577.7" width="2.8" height="19.2" rx="1.4" fill="#ededed" stroke="#161616" stroke-width="1.16" clip-path="url(#pgc555)"/>
<rect x="565" y="577.7" width="2.8" height="19.2" rx="1.4" fill="#ededed" stroke="#161616" stroke-width="1.16" clip-path="url(#pgc555)"/>
<rect x="571" y="577.7" width="2.8" height="19.2" rx="1.4" fill="#ededed" stroke="#161616" stroke-width="1.16" clip-path="url(#pgc555)"/>
<rect x="577" y="577.7" width="2.8" height="19.2" rx="1.4" fill="#ededed" stroke="#161616" stroke-width="1.16" clip-path="url(#pgc555)"/>
<rect x="555.7" y="577" width="1.5" height="21" rx="0" fill="#111" stroke="none" stroke-width="0" />
<g transform="translate(567.35,376.7)" fill="#1e3486"><path d="M3.4,0C-1.4,2.2-6.6,6.6-6.9,12.6C-6.9,14.8-6.3,16.6-5.4,17.8C-4.6,12.4 0.4,8.6 3.6,7C4.6,4.6 4.3,1.8 3.4,0Z"/><path d="M5.4,8.4C0.8,10.8-5.4,15.8-6.7,22.2C-6.9,24.6-6.4,26.8-5.6,28.2C-3.6,21.6 2.5,17.4 6.6,15.4C6.9,13 6.4,10.4 5.4,8.4Z"/><path d="M6.6,17.2C2,19.6-4.8,24.8-6.2,31.2C-6.2,32.8-5.8,34.2-5.2,35.4C-3.2,29 2.5,24.8 6.4,22.8C6.8,20.8 6.8,18.8 6.6,17.2Z"/><path d="M6.3,24.6C2.5,26.6-3.6,30.8-5.1,36.8C-4.8,39.4-4,41-3,42.4C-3.4,38-0.5,33 5.4,29.6C6,27.8 6.3,26.2 6.3,24.6Z"/><path d="M2.2,4.4l0.9,-1.5l0.9,1.5l-0.9,1.5Z" fill="#e2222b" stroke="#e2222b" stroke-width="0.5"/></g>
<text x="567.25" y="426.6" font-size="6.6" font-weight="bold" fill="#dc1f2a" text-anchor="middle" textLength="19.8" lengthAdjust="spacingAndGlyphs" font-style="italic" stroke="#dc1f2a" stroke-width="0.45">4SR F</text>
<rect x="557.25" y="427" width="20.6" height="3.1" rx="0" fill="#24408f" stroke="none" stroke-width="0" />
<text x="567.55" y="429.3" font-size="2" font-weight="normal" fill="#c9d3ee" text-anchor="middle" textLength="17.4" lengthAdjust="spacingAndGlyphs" >ELETTROPOMPE</text>
<circle cx="559.65" cy="433.6" r="1" fill="#dc1f2a" stroke="none" stroke-width="0" />
<text x="568.65" y="435.9" font-size="5.2" font-weight="bold" fill="#24408f" text-anchor="middle" textLength="15" lengthAdjust="spacingAndGlyphs" font-style="italic" stroke="#24408f" stroke-width="0.2">pedrollo</text>
<path d="M546.4,504.9L551.1,501.3L553.6,501.2L553.2,505.6L551.6,505.9L549.9,508.3Z" fill="#161616" stroke="#161616" stroke-width="0.6" stroke-linejoin="round"/>
<path d="M590.6,504.9L585.9,501.3L583.4,501.2L583.8,505.6L585.4,505.9L587.1,508.3Z" fill="#161616" stroke="#161616" stroke-width="0.6" stroke-linejoin="round"/>
<line x1="544" y1="296.45" x2="634.5" y2="296.45" stroke="#161616" stroke-width="1.71" />
<path d="M640.6,296.45L633.8,294.2V298.7Z" fill="#161616" stroke="none" stroke-width="0" />
<line x1="506" y1="327.45" x2="634.5" y2="327.45" stroke="#161616" stroke-width="1.71" />
<path d="M640.6,327.45L633.8,325.2V329.7Z" fill="#161616" stroke="none" stroke-width="0" />
<text x="647.2" y="300.9" font-size="12.6" font-weight="bold" fill="#111" text-anchor="start" textLength="57.8" lengthAdjust="spacingAndGlyphs" stroke="#141414" stroke-width="0.5" stroke-linejoin="round">STATIC LEVEL</text>
<text x="647.2" y="331.2" font-size="12.6" font-weight="bold" fill="#111" text-anchor="start" textLength="70" lengthAdjust="spacingAndGlyphs" stroke="#141414" stroke-width="0.5" stroke-linejoin="round">DYNAMIC LEVEL</text>
<line x1="506" y1="351.45" x2="555.6" y2="351.45" stroke="#161616" stroke-width="1.1" />
<line x1="506" y1="603.45" x2="554.5" y2="603.45" stroke="#161616" stroke-width="1.1" />
<line x1="506" y1="630.45" x2="540.5" y2="630.45" stroke="#161616" stroke-width="1.1" />
<line x1="508.45" y1="327.6" x2="508.45" y2="351.3" stroke="#161616" stroke-width="1.1" />
<line x1="508.45" y1="312.1" x2="508.45" y2="321.6" stroke="#161616" stroke-width="1.1" />
<path d="M506.15,316.6L510.75,316.6L508.45,327.6Z" fill="#161616" stroke="none" stroke-width="0" />
<line x1="508.45" y1="430.3" x2="508.45" y2="357.3" stroke="#161616" stroke-width="1.1" />
<path d="M506.15,362.3L510.75,362.3L508.45,351.3Z" fill="#161616" stroke="none" stroke-width="0" />
<line x1="508.45" y1="540.4" x2="508.45" y2="597.4" stroke="#161616" stroke-width="1.1" />
<path d="M506.15,592.4L510.75,592.4L508.45,603.4Z" fill="#161616" stroke="none" stroke-width="0" />
<line x1="508.45" y1="603.4" x2="508.45" y2="630.3" stroke="#161616" stroke-width="1.1" />
<line x1="508.45" y1="646.3" x2="508.45" y2="636.3" stroke="#161616" stroke-width="1.1" />
<path d="M506.15,641.3L510.75,641.3L508.45,630.3Z" fill="#161616" stroke="none" stroke-width="0" />
<text transform="translate(505.1,392) rotate(-90)" font-size="12.5" font-weight="bold" fill="#141414" stroke="#141414" stroke-width="0.3" word-spacing="-0.5" text-anchor="middle" textLength="62" lengthAdjust="spacingAndGlyphs">min. 50 cm</text>
<text transform="translate(505.1,568.4) rotate(-90)" font-size="12.5" font-weight="bold" fill="#141414" stroke="#141414" stroke-width="0.3" word-spacing="-0.5" text-anchor="middle" textLength="48" lengthAdjust="spacingAndGlyphs">min. 1 m</text>
<line x1="607.8" y1="59.4" x2="556.6" y2="86.2" stroke="#fff" stroke-width="2.2" stroke-opacity="0.6"/>
<line x1="607.8" y1="59.4" x2="556.6" y2="86.2" stroke="#8e8e8e" stroke-width="1.05" />
<circle cx="556.6" cy="86.2" r="1.9" fill="#fff" stroke="none" stroke-width="0" fill-opacity="0.7"/>
<circle cx="556.6" cy="86.2" r="1.3" fill="#b4b4b4" stroke="#909090" stroke-width="0.5" />
<line x1="635.1" y1="106.7" x2="596.8" y2="178.3" stroke="#fff" stroke-width="2.2" stroke-opacity="0.6"/>
<line x1="635.1" y1="106.7" x2="596.8" y2="178.3" stroke="#8e8e8e" stroke-width="1.05" />
<circle cx="596.8" cy="178.3" r="1.9" fill="#fff" stroke="none" stroke-width="0" fill-opacity="0.7"/>
<circle cx="596.8" cy="178.3" r="1.3" fill="#b4b4b4" stroke="#909090" stroke-width="0.5" />
<line x1="688.8" y1="161.7" x2="633.9" y2="189" stroke="#fff" stroke-width="2.2" stroke-opacity="0.6"/>
<line x1="688.8" y1="161.7" x2="633.9" y2="189" stroke="#8e8e8e" stroke-width="1.05" />
<circle cx="633.9" cy="189" r="1.9" fill="#fff" stroke="none" stroke-width="0" fill-opacity="0.7"/>
<circle cx="633.9" cy="189" r="1.3" fill="#b4b4b4" stroke="#909090" stroke-width="0.5" />
<line x1="497.8" y1="168" x2="580.4" y2="158.6" stroke="#fff" stroke-width="2.2" stroke-opacity="0.6"/>
<line x1="497.8" y1="168" x2="580.4" y2="158.6" stroke="#8e8e8e" stroke-width="1.05" />
<circle cx="580.4" cy="158.6" r="1.9" fill="#fff" stroke="none" stroke-width="0" fill-opacity="0.7"/>
<circle cx="580.4" cy="158.6" r="1.3" fill="#b4b4b4" stroke="#909090" stroke-width="0.5" />
<line x1="497" y1="217.9" x2="557.2" y2="244" stroke="#fff" stroke-width="2.2" stroke-opacity="0.6"/>
<line x1="497" y1="217.9" x2="557.2" y2="244" stroke="#8e8e8e" stroke-width="1.05" />
<circle cx="557.2" cy="244" r="1.9" fill="#fff" stroke="none" stroke-width="0" fill-opacity="0.7"/>
<circle cx="557.2" cy="244" r="1.3" fill="#b4b4b4" stroke="#909090" stroke-width="0.5" />
<line x1="687.6" y1="239.6" x2="612.1" y2="204.6" stroke="#fff" stroke-width="2.2" stroke-opacity="0.6"/>
<line x1="687.6" y1="239.6" x2="612.1" y2="204.6" stroke="#8e8e8e" stroke-width="1.05" />
<circle cx="612.1" cy="204.6" r="1.9" fill="#fff" stroke="none" stroke-width="0" fill-opacity="0.7"/>
<circle cx="612.1" cy="204.6" r="1.3" fill="#b4b4b4" stroke="#909090" stroke-width="0.5" />
<line x1="497" y1="296.6" x2="568.7" y2="317.1" stroke="#fff" stroke-width="2.2" stroke-opacity="0.6"/>
<line x1="497" y1="296.6" x2="568.7" y2="317.1" stroke="#8e8e8e" stroke-width="1.05" />
<circle cx="568.7" cy="317.1" r="1.9" fill="#fff" stroke="none" stroke-width="0" fill-opacity="0.7"/>
<circle cx="568.7" cy="317.1" r="1.3" fill="#b4b4b4" stroke="#909090" stroke-width="0.5" />
<line x1="498.4" y1="449.9" x2="568.7" y2="461.9" stroke="#fff" stroke-width="2.2" stroke-opacity="0.6"/>
<line x1="498.4" y1="449.9" x2="568.7" y2="461.9" stroke="#8e8e8e" stroke-width="1.05" />
<circle cx="568.7" cy="461.9" r="1.9" fill="#fff" stroke="none" stroke-width="0" fill-opacity="0.7"/>
<circle cx="568.7" cy="461.9" r="1.3" fill="#b4b4b4" stroke="#909090" stroke-width="0.5" />
<text x="616.6" y="56.8" font-size="12.3" font-weight="bold" fill="#141414" text-anchor="middle" >9</text>
<text x="639.7" y="99" font-size="12.3" font-weight="bold" fill="#141414" text-anchor="middle" >5</text>
<text x="697.8" y="159.1" font-size="12.3" font-weight="bold" fill="#141414" text-anchor="middle" >7</text>
<text x="486.1" y="171.1" font-size="12.3" font-weight="bold" fill="#141414" text-anchor="middle" >8</text>
<text x="486.1" y="215.9" font-size="12.3" font-weight="bold" fill="#141414" text-anchor="middle" >4</text>
<text x="697.8" y="246.8" font-size="12.3" font-weight="bold" fill="#141414" text-anchor="middle" >6</text>
<text x="486.1" y="295.4" font-size="12.3" font-weight="bold" fill="#141414" text-anchor="middle" >2</text>
<text x="485.8" y="449.9" font-size="12.3" font-weight="bold" fill="#141414" text-anchor="middle" >1</text>
</g>
<g id="right-diagram">
<path d="M820.4,267.3Q820.4,272.7 823.4,271.4Q826.5,270.2 826.0,266.1Q825.5,261.9 822.9,261.9Q820.4,261.9 820.4,267.3Z M828.2,271.1Q826.7,270.2 826.1,266.1Q825.6,261.9 831.0,261.9Q836.3,261.9 836.3,265.3Q836.3,268.7 833.0,270.4Q829.7,272.1 828.2,271.1Z M820.4,275.1Q820.4,272.8 823.5,271.6Q826.6,270.4 828.1,271.3Q829.5,272.2 829.9,274.7Q830.3,277.2 827.8,278.4Q825.3,279.6 822.8,278.4Q820.4,277.3 820.4,275.1Z M835.7,282.1Q836.3,282.1 836.4,275.5Q836.4,268.8 833.0,270.5Q829.7,272.3 830.1,274.7Q830.5,277.2 832.8,279.7Q835.1,282.1 835.7,282.1Z M822.8,278.6Q820.3,277.5 820.3,282.6Q820.3,287.6 822.3,286.4Q824.3,285.2 824.7,282.5Q825.2,279.8 822.8,278.6Z M827.9,278.5Q830.4,277.4 832.7,279.8Q835.0,282.2 833.3,284.1Q831.5,285.9 828.0,285.6Q824.5,285.2 824.9,282.5Q825.4,279.7 827.9,278.5Z M827.9,285.7Q831.5,286.1 831.0,290.4Q830.5,294.8 829.4,295.4Q828.3,295.9 824.4,293.2Q820.4,290.5 820.4,289.1Q820.4,287.8 822.4,286.6Q824.4,285.4 827.9,285.7Z M833.5,295.4Q836.4,296.0 836.4,289.2Q836.4,282.4 835.7,282.4Q835.1,282.4 833.4,284.2Q831.7,286.1 831.2,290.4Q830.6,294.8 833.5,295.4Z M827.1,299.2Q828.2,296.1 824.3,293.4Q820.3,290.6 820.3,298.3Q820.4,305.9 823.2,304.1Q826.0,302.3 827.1,299.2Z M827.3,299.3Q828.4,296.1 829.5,295.6Q830.6,295.0 833.4,295.6Q836.3,296.1 836.3,300.8Q836.3,305.4 831.8,304.2Q827.3,303.0 826.7,302.7Q826.2,302.4 827.3,299.3Z M820.4,306.1Q820.4,306.1 824.1,310.3Q827.7,314.5 829.8,313.1Q832.0,311.8 829.6,307.5Q827.2,303.2 826.6,302.9Q826.1,302.5 823.3,304.3Q820.4,306.0 820.4,306.1Z M831.8,304.4Q827.3,303.2 829.7,307.5Q832.1,311.7 834.2,311.4Q836.3,311.1 836.3,308.3Q836.3,305.6 831.8,304.4Z M820.4,313.8Q820.4,321.4 823.6,320.9Q826.8,320.4 827.2,317.5Q827.6,314.6 824.0,310.4Q820.3,306.2 820.4,313.8Z M827.9,321.1Q827.0,320.4 827.4,317.5Q827.9,314.7 829.9,313.3Q832.0,312.0 834.2,311.6Q836.3,311.3 836.3,316.8Q836.3,322.3 832.6,322.0Q828.8,321.8 827.9,321.1Z M820.4,325.7Q820.4,329.8 823.0,330.7Q825.6,331.6 826.8,330.6Q828.0,329.6 828.4,325.8Q828.7,322.0 827.8,321.3Q826.9,320.6 823.6,321.1Q820.4,321.6 820.4,325.7Z M832.3,331.6Q836.3,333.5 836.3,328.0Q836.3,322.5 832.6,322.2Q828.8,322.0 828.5,325.8Q828.2,329.6 832.3,331.6Z M820.4,334.1Q820.4,330.0 822.9,330.9Q825.5,331.7 825.6,333.7Q825.7,335.7 823.1,337.0Q820.4,338.2 820.4,334.1Z M833.2,336.6Q830.2,339.3 828.1,337.5Q826.0,335.7 825.8,333.7Q825.7,331.7 826.9,330.8Q828.2,329.8 832.2,331.7Q836.3,333.7 836.3,333.8Q836.3,333.9 833.2,336.6Z M824.9,344.4Q829.5,344.7 829.8,342.1Q830.0,339.5 827.9,337.7Q825.8,335.9 823.1,337.1Q820.4,338.4 820.4,341.2Q820.4,344.1 824.9,344.4Z M830.2,345.5Q829.7,344.7 829.9,342.1Q830.2,339.6 833.3,336.8Q836.4,334.1 836.3,340.7Q836.3,347.4 833.6,346.9Q830.8,346.3 830.2,345.5Z M823.6,355.8Q820.4,356.8 820.4,350.5Q820.4,344.3 824.9,344.5Q829.5,344.8 830.1,345.6Q830.6,346.4 828.8,350.6Q826.9,354.7 823.6,355.8Z M828.9,350.6Q827.0,354.7 829.1,356.2Q831.3,357.6 833.8,357.0Q836.3,356.5 836.3,352.0Q836.3,347.6 833.6,347.1Q830.8,346.5 828.9,350.6Z M820.4,358.6Q820.4,357.0 823.6,355.9Q826.9,354.9 829.0,356.4Q831.1,357.8 831.2,360.1Q831.3,362.4 828.9,364.4Q826.6,366.5 823.5,363.4Q820.4,360.3 820.4,358.6Z M831.4,360.1Q831.5,362.3 833.9,363.6Q836.3,364.8 836.3,360.7Q836.3,356.6 833.8,357.2Q831.3,357.8 831.4,360.1Z M820.7,376.0Q821.1,375.9 824.2,373.7Q827.3,371.6 826.9,369.1Q826.5,366.7 823.4,363.5Q820.3,360.4 820.3,368.2Q820.4,376.0 820.7,376.0Z M827.7,371.6Q827.5,371.5 827.1,369.1Q826.7,366.6 829.1,364.6Q831.4,362.5 833.8,363.7Q836.3,364.9 836.3,367.6Q836.3,370.2 832.1,370.9Q828.0,371.6 827.7,371.6Z M824.4,380.1Q821.1,376.1 824.3,373.9Q827.4,371.7 827.6,371.8Q827.9,371.9 830.4,375.8Q832.9,379.8 830.3,382.0Q827.6,384.2 824.4,380.1Z M834.7,379.9Q836.3,380.0 836.3,375.2Q836.3,370.4 832.2,371.1Q828.0,371.8 830.5,375.8Q833.0,379.8 834.7,379.9Z M820.7,376.2Q820.4,376.2 820.4,382.1Q820.4,388.1 823.9,387.2Q827.5,386.4 827.5,385.3Q827.5,384.2 824.3,380.2Q821.1,376.2 820.7,376.2Z M830.4,382.2Q827.7,384.3 827.7,385.4Q827.7,386.4 829.3,388.7Q830.8,390.9 833.6,390.4Q836.3,389.9 836.3,385.0Q836.3,380.2 834.7,380.1Q833.0,380.0 830.4,382.2Z M820.4,392.1Q820.4,388.2 824.0,387.4Q827.6,386.6 829.1,388.8Q830.7,391.1 829.5,393.7Q828.2,396.4 827.9,396.6Q827.5,396.8 823.9,396.4Q820.4,396.0 820.4,392.1Z M836.3,396.1Q836.3,402.1 832.4,399.3Q828.4,396.5 829.6,393.8Q830.9,391.1 833.6,390.6Q836.3,390.0 836.3,396.1Z M826.6,401.4Q827.5,397.0 823.9,396.6Q820.4,396.2 820.4,401.7Q820.4,407.2 823.1,406.5Q825.8,405.7 826.6,401.4Z M836.3,403.8Q836.3,402.2 832.3,399.4Q828.3,396.6 828.0,396.8Q827.6,397.0 826.8,401.4Q826.0,405.8 827.9,407.2Q829.8,408.7 833.0,407.0Q836.3,405.3 836.3,403.8Z M820.4,409.8Q820.4,412.3 823.6,414.3Q826.8,416.3 828.2,415.7Q829.6,415.0 829.6,412.0Q829.6,408.9 827.7,407.4Q825.9,406.0 823.1,406.7Q820.4,407.4 820.4,409.8Z M832.8,416.6Q829.8,415.1 829.8,412.0Q829.8,408.9 833.1,407.2Q836.4,405.4 836.4,411.8Q836.3,418.2 836.1,418.2Q835.9,418.1 832.8,416.6Z M820.3,418.0Q820.4,423.5 821.9,422.8Q823.5,422.2 825.1,419.3Q826.7,416.5 823.5,414.5Q820.3,412.4 820.3,418.0Z M825.3,419.4Q826.9,416.5 828.3,415.9Q829.7,415.2 832.7,416.7Q835.8,418.3 832.4,421.9Q829.1,425.6 826.4,423.9Q823.7,422.3 825.3,419.4Z M829.7,427.8Q829.0,425.8 826.3,424.1Q823.6,422.4 822.0,423.0Q820.4,423.7 820.4,427.6Q820.4,431.5 823.2,432.7Q825.9,433.9 828.2,431.8Q830.5,429.7 829.7,427.8Z M833.5,430.0Q830.7,429.7 829.9,427.7Q829.2,425.7 832.5,422.0Q835.9,418.4 836.1,418.4Q836.4,418.4 836.4,424.4Q836.4,430.4 833.5,430.0Z M823.1,432.9Q825.9,434.2 826.5,436.6Q827.1,439.1 823.7,441.9Q820.3,444.8 820.4,438.2Q820.4,431.7 823.1,432.9Z M836.3,435.4Q836.3,440.3 834.4,440.8Q832.5,441.4 829.9,440.3Q827.3,439.1 826.7,436.6Q826.1,434.1 828.4,432.0Q830.7,429.9 833.5,430.2Q836.3,430.6 836.3,435.4Z M823.6,450.0Q820.4,448.3 820.4,446.6Q820.4,444.9 823.8,442.1Q827.2,439.3 829.8,440.4Q832.4,441.6 831.6,445.2Q830.9,448.8 828.8,450.3Q826.8,451.7 823.6,450.0Z M834.5,441.0Q832.6,441.6 831.8,445.2Q831.0,448.8 833.7,449.9Q836.4,451.0 836.4,445.7Q836.4,440.5 834.5,441.0Z M821.4,462.1Q822.5,461.8 825.0,458.7Q827.5,455.5 827.1,453.7Q826.7,451.9 823.5,450.2Q820.3,448.4 820.3,455.4Q820.4,462.3 821.4,462.1Z M828.9,450.5Q826.9,451.9 827.3,453.7Q827.7,455.5 828.9,456.1Q830.1,456.8 833.2,456.5Q836.3,456.2 836.3,453.7Q836.3,451.2 833.6,450.1Q831.0,449.0 828.9,450.5Z M825.1,458.8Q822.6,462.0 826.2,464.2Q829.8,466.5 831.3,466.6Q832.9,466.7 831.4,461.9Q830.0,457.0 828.8,456.3Q827.6,455.7 825.1,458.8Z M835.5,467.5Q834.7,467.6 833.8,467.1Q833.0,466.7 831.5,461.9Q830.1,457.0 833.2,456.7Q836.4,456.4 836.4,461.9Q836.3,467.4 835.5,467.5Z M821.4,462.3Q820.4,462.6 820.4,468.6Q820.3,474.7 825.0,470.6Q829.7,466.6 826.1,464.3Q822.5,462.1 821.4,462.3Z M831.3,466.8Q832.8,466.9 833.7,467.3Q834.6,467.7 832.8,471.3Q831.0,474.8 825.7,474.9Q820.4,475.0 820.4,474.9Q820.4,474.7 825.1,470.7Q829.8,466.7 831.3,466.8Z M829.1,481.4Q825.3,482.5 822.9,480.2Q820.4,478.0 820.4,476.5Q820.4,475.1 825.7,475.0Q831.0,475.0 831.9,477.6Q832.8,480.3 829.1,481.4Z M833.0,471.4Q834.7,467.8 835.5,467.7Q836.4,467.6 836.4,475.0Q836.4,482.3 834.7,481.3Q833.0,480.2 832.1,477.6Q831.2,474.9 833.0,471.4Z M820.3,484.3Q820.4,490.5 823.0,489.6Q825.7,488.8 825.5,485.7Q825.2,482.7 822.8,480.4Q820.3,478.1 820.3,484.3Z M836.3,486.2Q836.3,489.9 833.7,491.0Q831.1,492.1 828.5,490.5Q825.9,488.8 825.7,485.7Q825.4,482.7 829.1,481.5Q832.9,480.4 834.6,481.5Q836.3,482.5 836.3,486.2Z M829.8,495.6Q828.7,499.0 824.6,498.9Q820.4,498.9 820.4,494.8Q820.4,490.7 823.1,489.8Q825.8,489.0 828.4,490.6Q831.0,492.3 829.8,495.6Z M832.4,502.4Q829.3,500.0 829.1,499.5Q828.9,499.0 830.0,495.7Q831.1,492.4 833.7,491.2Q836.4,490.1 836.3,497.6Q836.3,505.2 835.9,505.0Q835.4,504.9 832.4,502.4Z M822.3,509.4Q824.2,508.8 826.7,504.4Q829.1,500.1 828.9,499.6Q828.7,499.1 824.5,499.1Q820.4,499.0 820.4,504.5Q820.4,509.9 822.3,509.4Z M831.6,507.6Q835.3,505.0 832.3,502.6Q829.2,500.1 826.8,504.5Q824.3,508.9 826.1,509.5Q827.9,510.1 831.6,507.6Z M829.6,513.1Q831.3,516.0 829.6,517.3Q827.9,518.7 824.2,517.7Q820.4,516.8 820.4,513.4Q820.4,510.1 822.3,509.6Q824.2,509.1 826.0,509.7Q827.8,510.3 829.6,513.1Z M829.8,513.1Q831.5,515.9 833.9,515.7Q836.3,515.5 836.3,510.4Q836.3,505.4 835.9,505.2Q835.4,505.1 831.7,507.7Q828.0,510.2 829.8,513.1Z M824.1,517.9Q820.4,517.0 820.4,522.1Q820.4,527.2 824.6,526.2Q828.8,525.2 828.3,522.1Q827.9,518.9 824.1,517.9Z M833.9,515.9Q831.5,516.1 829.8,517.5Q828.1,518.8 828.5,522.0Q829.0,525.2 829.7,525.8Q830.4,526.3 833.3,525.0Q836.3,523.6 836.3,519.7Q836.3,515.7 833.9,515.9Z M820.4,529.2Q820.4,531.0 823.7,532.7Q827.0,534.4 828.9,532.1Q830.8,529.8 830.5,528.2Q830.2,526.5 829.5,526.0Q828.8,525.4 824.6,526.4Q820.4,527.3 820.4,529.2Z M833.7,531.3Q836.3,532.8 836.3,528.3Q836.3,523.8 833.4,525.2Q830.4,526.5 830.7,528.2Q831.0,529.8 833.7,531.3Z M823.7,532.9Q820.4,531.2 820.4,537.8Q820.4,544.4 823.4,543.2Q826.4,542.0 827.2,541.3Q828.0,540.7 827.5,537.6Q827.0,534.6 823.7,532.9Z M827.7,537.6Q827.1,534.6 829.0,532.3Q830.9,530.0 833.6,531.5Q836.3,533.0 836.3,536.9Q836.3,540.8 832.2,540.7Q828.2,540.6 827.7,537.6Z M828.3,551.7Q830.5,549.9 828.5,546.1Q826.5,542.2 823.4,543.4Q820.4,544.6 820.4,547.4Q820.4,550.2 823.3,551.8Q826.2,553.4 828.3,551.7Z M828.6,546.0Q830.6,549.9 833.5,550.2Q836.3,550.6 836.3,545.8Q836.3,541.0 832.2,540.9Q828.2,540.8 827.4,541.5Q826.6,542.2 828.6,546.0Z M827.6,556.6Q829.0,559.6 829.0,559.8Q828.9,560.1 824.6,561.3Q820.4,562.6 820.4,556.5Q820.4,550.4 823.3,552.0Q826.2,553.6 827.6,556.6Z M836.3,552.9Q836.3,550.7 833.5,550.4Q830.6,550.1 828.5,551.8Q826.4,553.5 827.8,556.5Q829.2,559.5 832.7,557.3Q836.3,555.2 836.3,552.9Z M824.7,561.5Q828.9,560.3 830.6,563.5Q832.3,566.8 828.5,568.0Q824.7,569.3 822.5,566.2Q820.4,563.1 820.4,562.9Q820.4,562.7 824.7,561.5Z M836.4,562.3Q836.4,555.3 832.8,557.5Q829.2,559.7 829.2,560.0Q829.1,560.2 830.7,563.5Q832.4,566.7 834.1,568.0Q835.8,569.4 836.1,569.4Q836.3,569.4 836.4,562.3Z M823.5,572.6Q824.6,569.5 822.4,566.3Q820.3,563.2 820.3,569.7Q820.3,576.3 821.4,576.0Q822.5,575.8 823.5,572.6Z M825.7,576.8Q822.6,575.8 823.7,572.7Q824.8,569.5 828.5,568.2Q832.3,566.9 834.0,568.2Q835.8,569.5 832.3,573.6Q828.8,577.7 825.7,576.8Z M825.6,576.9Q822.6,576.0 821.5,576.3Q820.4,576.5 820.4,580.2Q820.4,583.9 823.3,584.9Q826.3,585.9 828.1,583.4Q830.0,581.0 829.3,579.4Q828.7,577.9 825.6,576.9Z M829.5,579.3Q828.9,577.8 832.4,573.7Q835.8,569.6 836.1,569.6Q836.4,569.6 836.4,577.0Q836.4,584.3 833.3,582.6Q830.2,580.9 829.5,579.3Z M823.3,585.1Q820.4,584.1 820.4,588.1Q820.4,592.1 823.5,591.4Q826.6,590.6 826.4,588.3Q826.2,586.1 823.3,585.1Z M826.6,588.3Q826.4,586.1 828.3,583.6Q830.1,581.1 833.2,582.8Q836.3,584.5 836.3,587.9Q836.3,591.4 833.3,592.3Q830.3,593.1 828.6,591.9Q826.8,590.6 826.6,588.3Z M828.4,592.0Q830.2,593.3 829.0,596.7Q827.9,600.0 824.1,599.2Q820.4,598.3 820.4,595.3Q820.4,592.3 823.5,591.5Q826.7,590.8 828.4,592.0Z M829.2,596.7Q830.3,593.4 833.3,592.5Q836.3,591.6 836.3,597.8Q836.3,604.0 832.6,603.1Q828.9,602.3 828.5,601.2Q828.0,600.1 829.2,596.7Z M828.3,601.3Q827.8,600.2 824.1,599.3Q820.4,598.4 820.4,604.9Q820.4,611.4 822.5,610.5Q824.7,609.5 826.7,606.0Q828.7,602.4 828.3,601.3Z M826.8,606.1Q824.8,609.6 826.2,610.2Q827.6,610.9 831.9,610.9Q836.3,611.0 836.3,607.5Q836.3,604.1 832.6,603.3Q828.9,602.5 826.8,606.1Z M820.4,614.1Q820.4,616.6 822.5,618.4Q824.6,620.1 828.4,619.9Q832.2,619.6 829.8,615.3Q827.4,611.0 826.1,610.4Q824.7,609.8 822.6,610.7Q820.4,611.5 820.4,614.1Z M830.0,615.3Q827.6,611.0 832.0,611.1Q836.3,611.1 836.3,615.9Q836.3,620.6 836.1,620.6Q835.8,620.6 834.1,620.1Q832.4,619.6 830.0,615.3Z M820.3,623.1Q820.3,629.5 822.6,628.4Q824.9,627.3 824.7,623.8Q824.6,620.3 822.4,618.6Q820.3,616.8 820.3,623.1Z M824.9,623.8Q824.7,620.3 828.5,620.0Q832.3,619.8 834.0,620.3Q835.7,620.8 832.1,624.8Q828.4,628.8 826.7,628.1Q825.0,627.3 824.9,623.8Z M820.4,631.7Q820.4,629.7 822.7,628.6Q824.9,627.5 826.6,628.3Q828.3,629.0 829.3,631.1Q830.4,633.2 828.7,635.3Q827.1,637.4 823.8,635.6Q820.4,633.8 820.4,631.7Z M836.1,620.8Q835.8,620.9 832.2,624.9Q828.5,628.9 829.5,631.0Q830.5,633.1 833.4,633.3Q836.3,633.5 836.4,627.1Q836.4,620.8 836.1,620.8Z M820.4,639.5Q820.4,634.0 823.7,635.8Q827.1,637.6 827.1,639.7Q827.1,641.9 823.7,643.5Q820.4,645.1 820.4,639.5Z M833.1,642.4Q830.0,643.6 828.7,642.8Q827.3,641.9 827.3,639.7Q827.3,637.5 828.9,635.4Q830.5,633.4 833.4,633.5Q836.3,633.7 836.3,637.4Q836.3,641.1 833.1,642.4Z M820.4,648.8Q820.4,652.3 826.4,652.3Q832.5,652.3 831.2,648.1Q829.9,643.8 828.5,642.9Q827.2,642.1 823.8,643.7Q820.4,645.3 820.4,648.8Z M833.2,642.5Q836.4,641.3 836.3,646.8Q836.3,652.3 834.5,652.3Q832.6,652.3 831.3,648.0Q830.1,643.8 833.2,642.5Z" fill="#fff" stroke="#111" stroke-width="0.95" stroke-linejoin="round"/>
<path d="M889.7,264.8Q889.7,261.9 897.2,261.8Q904.6,261.8 898.9,264.8Q893.1,267.9 891.4,267.8Q889.7,267.7 889.7,264.8Z M896.4,271.2Q893.2,267.9 898.9,264.9Q904.7,261.9 905.6,261.9Q906.5,261.9 906.5,261.9Q906.5,262.0 903.0,268.3Q899.5,274.5 896.4,271.2Z M889.7,272.3Q889.7,276.8 894.2,276.7Q898.8,276.7 899.0,276.5Q899.2,276.3 899.3,275.5Q899.4,274.6 896.3,271.4Q893.1,268.1 891.4,268.0Q889.7,267.8 889.7,272.3Z M903.0,277.3Q906.5,278.3 906.5,270.2Q906.6,262.0 903.1,268.3Q899.6,274.6 899.5,275.4Q899.4,276.3 903.0,277.3Z M889.7,282.9Q889.7,288.8 893.9,288.0Q898.2,287.1 898.5,282.0Q898.8,276.9 894.2,276.9Q889.7,276.9 889.7,282.9Z M899.7,287.9Q898.3,287.1 898.6,282.0Q898.9,276.9 899.1,276.7Q899.3,276.5 902.9,277.5Q906.5,278.5 906.5,283.0Q906.5,287.5 903.8,288.0Q901.1,288.6 899.7,287.9Z M889.7,289.3Q889.7,288.9 894.0,288.1Q898.2,287.3 899.6,288.0Q901.0,288.8 901.0,292.3Q901.0,295.8 899.4,297.4Q897.7,299.0 893.7,294.3Q889.7,289.7 889.7,289.3Z M901.2,292.3Q901.2,295.8 903.9,297.1Q906.5,298.4 906.5,293.0Q906.5,287.6 903.8,288.2Q901.1,288.8 901.2,292.3Z M893.6,294.4Q897.6,299.1 897.2,300.2Q896.8,301.3 893.3,302.0Q889.7,302.7 889.7,296.2Q889.6,289.8 893.6,294.4Z M898.9,303.7Q897.1,301.3 897.4,300.2Q897.8,299.1 899.5,297.6Q901.1,296.0 903.8,297.3Q906.5,298.6 906.5,301.2Q906.5,303.8 903.6,304.9Q900.7,306.0 898.9,303.7Z M900.0,308.8Q900.6,306.2 898.7,303.8Q896.9,301.5 893.3,302.2Q889.7,302.8 889.7,307.6Q889.7,312.4 893.8,312.5Q897.9,312.6 898.6,312.1Q899.4,311.5 900.0,308.8Z M906.5,308.9Q906.5,304.0 903.6,305.1Q900.8,306.2 900.2,308.9Q899.6,311.5 903.1,312.7Q906.5,313.8 906.5,308.9Z M893.8,312.7Q889.7,312.6 889.7,318.6Q889.7,324.6 894.4,322.9Q899.1,321.1 898.5,317.0Q897.9,312.8 893.8,312.7Z M898.8,312.3Q899.5,311.7 903.0,312.8Q906.5,314.0 906.5,318.4Q906.5,322.8 904.1,322.7Q901.7,322.7 900.5,321.9Q899.3,321.1 898.6,317.0Q898.0,312.8 898.8,312.3Z M889.7,326.3Q889.7,327.9 893.2,330.3Q896.6,332.7 897.5,332.1Q898.4,331.5 900.0,327.2Q901.6,322.9 900.4,322.1Q899.1,321.3 894.4,323.0Q889.7,324.8 889.7,326.3Z M906.5,327.2Q906.5,323.0 904.1,322.9Q901.7,322.9 900.2,327.2Q898.6,331.5 902.6,331.5Q906.5,331.5 906.5,327.2Z M889.7,334.5Q889.7,328.1 893.1,330.5Q896.5,332.9 896.7,335.6Q896.9,338.2 893.3,339.6Q889.7,340.9 889.7,334.5Z M897.7,332.3Q896.7,332.9 896.9,335.6Q897.1,338.2 898.0,339.1Q898.9,340.0 902.7,338.3Q906.5,336.7 906.5,334.1Q906.5,331.6 902.5,331.7Q898.6,331.7 897.7,332.3Z M889.7,343.8Q889.7,341.1 893.3,339.8Q896.9,338.4 897.9,339.3Q898.8,340.2 899.9,343.5Q901.0,346.8 898.0,348.0Q895.0,349.1 892.3,347.8Q889.7,346.5 889.7,343.8Z M900.0,343.5Q901.2,346.7 903.9,348.5Q906.5,350.2 906.5,343.5Q906.5,336.8 902.7,338.5Q898.9,340.2 900.0,343.5Z M892.3,348.0Q894.9,349.3 893.8,352.4Q892.7,355.6 891.2,356.6Q889.6,357.7 889.6,352.2Q889.6,346.7 892.3,348.0Z M898.1,348.1Q895.1,349.3 894.0,352.5Q892.8,355.6 896.6,356.4Q900.3,357.2 903.4,354.3Q906.5,351.3 906.5,350.8Q906.5,350.3 903.8,348.6Q901.1,347.0 898.1,348.1Z M893.9,362.8Q889.7,361.8 889.7,359.8Q889.7,357.8 891.3,356.8Q892.8,355.8 896.5,356.6Q900.2,357.4 899.8,360.3Q899.5,363.2 898.8,363.5Q898.0,363.8 893.9,362.8Z M903.1,365.1Q906.6,367.1 906.6,359.2Q906.6,351.4 903.5,354.4Q900.4,357.4 900.0,360.3Q899.7,363.2 903.1,365.1Z M893.8,362.9Q898.0,363.9 896.7,367.8Q895.4,371.7 892.6,371.9Q889.7,372.0 889.7,367.0Q889.7,361.9 893.8,362.9Z M903.1,365.3Q906.5,367.2 906.5,368.1Q906.5,369.1 903.0,371.5Q899.5,373.9 897.6,372.9Q895.6,371.8 896.9,367.9Q898.1,364.0 898.9,363.7Q899.6,363.4 903.1,365.3Z M893.8,381.0Q897.8,381.9 899.0,381.6Q900.1,381.3 899.8,377.7Q899.4,374.1 897.4,373.0Q895.5,372.0 892.6,372.1Q889.7,372.2 889.7,376.1Q889.7,380.0 893.8,381.0Z M899.9,377.7Q899.6,374.1 903.1,371.7Q906.6,369.2 906.6,377.1Q906.6,385.1 903.4,383.2Q900.3,381.3 899.9,377.7Z M891.7,389.6Q889.7,390.2 889.7,385.2Q889.7,380.2 893.7,381.1Q897.8,382.1 895.7,385.5Q893.7,389.0 891.7,389.6Z M897.0,390.7Q900.2,392.3 903.3,389.9Q906.5,387.5 906.5,386.4Q906.5,385.2 903.4,383.4Q900.2,381.5 899.1,381.8Q897.9,382.1 895.9,385.6Q893.9,389.1 897.0,390.7Z M896.9,390.8Q900.1,392.5 899.7,393.6Q899.3,394.8 897.4,396.1Q895.5,397.4 892.6,397.2Q889.7,397.1 889.7,393.7Q889.7,390.4 891.7,389.8Q893.8,389.2 896.9,390.8Z M906.1,402.5Q905.6,402.6 902.6,398.7Q899.5,394.8 899.9,393.7Q900.3,392.5 903.4,390.1Q906.6,387.7 906.6,395.1Q906.6,402.5 906.1,402.5Z M894.1,406.5Q898.5,403.9 897.0,400.7Q895.4,397.6 892.5,397.4Q889.7,397.3 889.7,403.2Q889.7,409.2 889.7,409.2Q889.7,409.2 894.1,406.5Z M903.9,403.4Q905.6,402.6 902.5,398.8Q899.4,394.9 897.5,396.3Q895.6,397.6 897.1,400.7Q898.7,403.8 900.5,404.0Q902.3,404.3 903.9,403.4Z M901.6,408.3Q902.3,404.4 900.4,404.2Q898.6,404.0 894.2,406.6Q889.8,409.3 891.6,410.7Q893.3,412.1 897.1,412.1Q900.9,412.2 901.6,408.3Z M904.0,403.6Q905.7,402.8 906.1,402.8Q906.6,402.7 906.6,410.0Q906.6,417.3 906.5,417.3Q906.3,417.3 903.7,414.8Q901.1,412.2 901.8,408.3Q902.4,404.5 904.0,403.6Z M891.5,410.9Q893.2,412.3 894.5,417.3Q895.8,422.3 892.7,423.8Q889.6,425.4 889.6,417.4Q889.6,409.4 889.7,409.4Q889.7,409.4 891.5,410.9Z M903.6,414.9Q901.0,412.4 897.2,412.3Q893.4,412.3 894.6,417.3Q895.9,422.3 897.5,422.5Q899.0,422.8 902.6,420.1Q906.2,417.5 903.6,414.9Z M900.7,427.3Q902.4,431.6 900.0,432.6Q897.5,433.6 893.6,430.3Q889.7,427.0 889.7,426.3Q889.7,425.5 892.8,424.0Q895.9,422.5 897.4,422.8Q898.9,423.0 900.7,427.3Z M906.4,417.6Q906.3,417.6 902.7,420.3Q899.1,422.9 900.8,427.3Q902.5,431.6 904.5,432.5Q906.6,433.5 906.6,425.5Q906.6,417.6 906.4,417.6Z M893.6,430.4Q889.6,427.2 889.6,434.4Q889.7,441.7 891.4,440.7Q893.2,439.8 895.3,436.8Q897.5,433.7 893.6,430.4Z M904.5,432.7Q906.5,433.7 906.5,435.5Q906.5,437.4 904.4,439.4Q902.2,441.4 897.8,440.7Q893.3,439.9 895.5,436.8Q897.7,433.7 900.1,432.8Q902.5,431.8 904.5,432.7Z M891.5,440.9Q893.3,440.0 897.7,440.8Q902.2,441.6 902.0,445.1Q901.9,448.6 899.9,449.6Q897.8,450.5 893.8,447.6Q889.7,444.7 889.7,443.3Q889.7,441.8 891.5,440.9Z M902.2,445.1Q902.1,448.6 904.3,449.2Q906.6,449.8 906.6,443.7Q906.6,437.6 904.4,439.6Q902.3,441.7 902.2,445.1Z M897.5,453.6Q897.7,450.7 893.7,447.7Q889.7,444.8 889.7,452.3Q889.7,459.7 893.4,458.1Q897.2,456.5 897.5,453.6Z M903.2,457.7Q900.0,458.8 898.7,457.7Q897.4,456.5 897.7,453.6Q897.9,450.7 900.0,449.8Q902.0,448.8 904.3,449.4Q906.5,450.0 906.5,453.2Q906.5,456.5 903.2,457.7Z M893.5,458.3Q889.7,459.9 889.7,462.9Q889.7,465.9 893.6,466.9Q897.6,467.9 899.5,466.9Q901.5,465.9 900.7,462.4Q899.8,459.0 898.6,457.8Q897.3,456.7 893.5,458.3Z M900.9,462.4Q901.7,465.8 904.1,466.8Q906.5,467.7 906.5,462.2Q906.5,456.7 903.3,457.8Q900.0,459.0 900.9,462.4Z M893.6,467.1Q897.5,468.1 897.1,471.7Q896.8,475.2 893.2,475.0Q889.7,474.7 889.7,470.4Q889.7,466.1 893.6,467.1Z M898.1,476.8Q896.9,475.2 897.3,471.7Q897.7,468.1 899.7,467.1Q901.6,466.1 904.1,467.0Q906.5,467.8 906.5,469.8Q906.5,471.7 902.9,475.1Q899.2,478.4 898.1,476.8Z M897.9,477.0Q896.8,475.4 893.2,475.1Q889.7,474.9 889.7,478.7Q889.7,482.5 892.0,483.1Q894.3,483.8 896.7,481.4Q899.1,479.1 899.1,478.8Q899.1,478.5 897.9,477.0Z M902.9,475.2Q899.3,478.5 899.4,478.8Q899.4,479.1 903.0,481.6Q906.5,484.0 906.5,477.9Q906.5,471.8 902.9,475.2Z M896.4,491.7Q896.4,491.7 895.4,487.8Q894.3,484.0 892.0,483.3Q889.7,482.7 889.7,488.1Q889.7,493.6 893.0,492.6Q896.4,491.7 896.4,491.7Z M901.5,489.2Q896.6,491.7 895.5,487.8Q894.5,483.9 896.9,481.6Q899.3,479.3 902.9,481.7Q906.5,484.1 906.5,485.4Q906.5,486.7 901.5,489.2Z M897.7,494.4Q896.4,491.9 893.1,492.8Q889.7,493.7 889.7,496.2Q889.7,498.7 893.1,501.0Q896.4,503.3 897.7,500.1Q898.9,496.9 897.7,494.4Z M896.6,491.8Q896.6,491.8 901.6,489.3Q906.5,486.9 906.5,492.3Q906.5,497.8 902.8,497.3Q899.1,496.8 897.9,494.3Q896.6,491.8 896.6,491.8Z M896.4,503.6Q896.4,503.8 893.0,505.7Q889.7,507.6 889.7,503.2Q889.7,498.9 893.0,501.1Q896.4,503.4 896.4,503.6Z M896.6,503.6Q896.6,503.4 897.8,500.2Q899.1,497.0 902.8,497.5Q906.5,497.9 906.5,501.7Q906.5,505.4 903.1,506.1Q899.7,506.8 898.2,505.3Q896.6,503.8 896.6,503.6Z M898.0,505.5Q899.6,507.0 899.3,511.5Q899.0,516.0 898.0,516.6Q897.0,517.3 893.4,516.1Q889.7,515.0 889.7,511.4Q889.7,507.8 893.1,505.9Q896.5,504.0 898.0,505.5Z M906.5,511.3Q906.5,505.6 903.1,506.3Q899.7,507.1 899.4,511.5Q899.1,516.0 902.8,516.5Q906.5,516.9 906.5,511.3Z M889.7,520.7Q889.7,515.2 893.3,516.3Q897.0,517.5 896.8,520.5Q896.7,523.5 893.2,524.8Q889.7,526.2 889.7,520.7Z M906.5,519.9Q906.5,522.7 903.1,525.5Q899.7,528.4 898.3,525.9Q896.8,523.5 897.0,520.5Q897.1,517.5 898.1,516.8Q899.1,516.2 902.8,516.7Q906.5,517.1 906.5,519.9Z M898.1,526.1Q899.5,528.5 899.8,530.1Q900.1,531.6 897.9,532.9Q895.7,534.2 892.7,533.3Q889.7,532.4 889.7,529.4Q889.7,526.3 893.2,525.0Q896.7,523.7 898.1,526.1Z M906.5,528.8Q906.5,522.8 903.2,525.7Q899.8,528.5 900.0,530.0Q900.3,531.6 903.4,533.1Q906.5,534.7 906.5,528.8Z M889.9,544.8Q889.6,544.8 889.6,538.7Q889.6,532.6 892.6,533.5Q895.6,534.4 895.0,537.8Q894.4,541.3 892.3,543.0Q890.2,544.8 889.9,544.8Z M906.5,536.6Q906.5,534.8 903.3,533.3Q900.2,531.8 898.0,533.1Q895.8,534.4 895.2,537.8Q894.5,541.3 897.1,542.1Q899.6,542.9 903.0,540.7Q906.5,538.5 906.5,536.6Z M898.3,549.8Q895.9,551.3 893.1,548.1Q890.3,544.9 892.4,543.2Q894.5,541.5 897.0,542.3Q899.5,543.1 900.1,545.7Q900.8,548.3 898.3,549.8Z M903.1,540.8Q899.7,543.1 900.3,545.7Q901.0,548.3 903.8,548.9Q906.5,549.5 906.5,544.0Q906.5,538.6 903.1,540.8Z M893.0,548.2Q895.8,551.4 895.6,554.3Q895.5,557.2 893.1,558.9Q890.6,560.5 890.1,560.5Q889.6,560.6 889.6,552.8Q889.6,545.0 889.9,545.0Q890.2,545.0 893.0,548.2Z M902.6,557.8Q898.6,558.0 897.1,557.6Q895.7,557.3 895.8,554.3Q896.0,551.4 898.4,550.0Q900.9,548.5 903.7,549.1Q906.5,549.7 906.5,553.6Q906.5,557.6 902.6,557.8Z M898.4,566.7Q900.6,565.9 899.5,562.0Q898.5,558.2 897.1,557.8Q895.6,557.5 893.2,559.0Q890.7,560.6 893.5,564.1Q896.2,567.5 898.4,566.7Z M903.6,566.7Q906.5,567.6 906.5,562.7Q906.5,557.8 902.6,558.0Q898.7,558.2 899.7,562.0Q900.7,565.9 903.6,566.7Z M896.2,569.9Q896.1,567.6 893.4,564.2Q890.6,560.7 890.1,560.8Q889.6,560.8 889.6,568.6Q889.6,576.4 892.9,574.3Q896.2,572.1 896.2,569.9Z M900.9,573.6Q905.4,574.9 906.0,574.7Q906.5,574.6 906.5,571.1Q906.5,567.7 903.6,566.9Q900.7,566.1 898.5,566.9Q896.3,567.7 896.4,569.9Q896.4,572.2 900.9,573.6Z M893.0,574.4Q896.3,572.4 900.8,573.7Q905.4,575.1 902.9,578.2Q900.4,581.3 898.6,581.9Q896.8,582.4 893.2,581.1Q889.7,579.8 889.7,578.1Q889.7,576.5 893.0,574.4Z M903.0,578.3Q905.5,575.2 906.0,575.0Q906.6,574.7 906.6,581.6Q906.6,588.5 906.0,588.6Q905.5,588.6 903.1,585.0Q900.6,581.4 903.0,578.3Z M889.7,586.8Q889.7,579.9 893.2,581.3Q896.7,582.6 897.2,587.7Q897.6,592.9 893.6,593.2Q889.7,593.6 889.7,586.8Z M897.3,587.7Q897.7,592.8 898.2,593.1Q898.8,593.3 902.1,591.0Q905.4,588.7 902.9,585.1Q900.5,581.5 898.7,582.1Q896.8,582.6 897.3,587.7Z M889.7,597.4Q889.7,593.8 893.7,593.4Q897.6,593.1 898.2,593.3Q898.7,593.5 900.5,597.3Q902.4,601.1 898.7,602.6Q895.0,604.0 892.4,602.5Q889.7,601.0 889.7,597.4Z M906.0,588.8Q906.6,588.8 906.6,596.1Q906.6,603.4 904.5,602.2Q902.5,601.0 900.7,597.2Q898.9,593.4 902.2,591.1Q905.5,588.8 906.0,588.8Z M892.6,612.3Q894.0,611.0 894.5,607.6Q894.9,604.2 892.3,602.7Q889.6,601.2 889.6,607.4Q889.7,613.7 890.5,613.6Q891.3,613.6 892.6,612.3Z M906.5,606.0Q906.5,603.5 904.5,602.4Q902.5,601.3 898.8,602.7Q895.1,604.2 894.6,607.6Q894.2,611.0 898.3,610.9Q902.5,610.8 904.5,609.6Q906.5,608.4 906.5,606.0Z M901.3,614.2Q902.4,611.0 898.3,611.1Q894.1,611.2 892.8,612.4Q891.4,613.7 893.4,615.7Q895.3,617.7 897.8,617.5Q900.2,617.3 901.3,614.2Z M904.6,609.8Q906.6,608.6 906.6,616.4Q906.6,624.3 903.5,620.8Q900.4,617.4 901.5,614.2Q902.6,611.1 904.6,609.8Z M893.2,615.8Q895.2,617.9 895.3,621.7Q895.4,625.6 892.5,627.3Q889.6,629.1 889.6,621.5Q889.6,613.9 890.5,613.8Q891.3,613.8 893.2,615.8Z M906.5,624.4Q906.5,624.5 904.9,625.3Q903.3,626.2 899.4,625.9Q895.6,625.6 895.5,621.8Q895.4,617.9 897.8,617.7Q900.3,617.5 903.4,621.0Q906.5,624.4 906.5,624.4Z M902.0,631.3Q900.8,636.2 900.4,636.3Q899.9,636.3 894.8,633.6Q889.7,631.0 889.7,630.1Q889.7,629.2 892.6,627.5Q895.5,625.8 899.3,626.1Q903.2,626.4 902.0,631.3Z M906.2,639.6Q905.8,639.6 903.4,637.9Q900.9,636.2 902.1,631.3Q903.3,626.4 905.0,625.5Q906.6,624.6 906.6,632.1Q906.6,639.6 906.2,639.6Z M897.1,639.7Q899.9,636.5 894.8,633.8Q889.7,631.1 889.7,637.8Q889.7,644.5 892.0,643.8Q894.4,643.0 897.1,639.7Z M903.5,642.7Q901.3,645.6 897.9,644.3Q894.5,643.1 897.3,639.8Q900.0,636.5 900.4,636.5Q900.8,636.4 903.3,638.1Q905.7,639.7 903.5,642.7Z M897.8,644.5Q901.2,645.8 901.7,649.0Q902.2,652.3 896.0,652.3Q889.7,652.3 889.7,648.5Q889.7,644.7 892.1,643.9Q894.4,643.2 897.8,644.5Z M904.5,652.3Q902.4,652.3 901.9,649.0Q901.5,645.7 903.6,642.8Q905.8,639.8 906.2,639.8Q906.6,639.8 906.6,646.1Q906.6,652.3 904.5,652.3Z" fill="#fff" stroke="#111" stroke-width="0.95" stroke-linejoin="round"/>
<path d="M848.3,651.7Q848.1,651.2 843.6,646.3Q839.2,641.5 837.8,641.5Q836.5,641.5 836.5,646.9Q836.5,652.3 842.5,652.3Q848.5,652.3 848.3,651.7Z M845.9,641.5Q852.5,641.5 850.3,646.3Q848.2,651.1 843.7,646.3Q839.3,641.4 845.9,641.5Z M848.5,651.7Q848.6,652.3 854.3,652.3Q859.9,652.3 858.1,646.9Q856.4,641.5 854.5,641.5Q852.6,641.5 850.5,646.3Q848.3,651.1 848.5,651.7Z M860.5,652.3Q861.0,652.3 863.4,646.9Q865.7,641.5 861.1,641.5Q856.5,641.5 858.2,646.9Q860.0,652.3 860.5,652.3Z M870.8,646.9Q870.9,641.5 868.4,641.5Q865.8,641.5 863.5,646.9Q861.1,652.3 865.9,652.3Q870.8,652.3 870.8,646.9Z M876.1,652.3Q881.2,652.3 878.8,646.9Q876.4,641.5 873.7,641.5Q871.0,641.5 871.0,646.9Q870.9,652.3 876.1,652.3Z M885.4,652.3Q881.4,652.3 878.9,646.9Q876.5,641.5 883.0,641.5Q889.5,641.5 889.5,646.9Q889.5,652.3 885.4,652.3Z" fill="#fff" stroke="#111" stroke-width="0.95" stroke-linejoin="round"/>
<clipPath id="hr1"><rect x="806" y="254.3" width="30.4" height="7"/></clipPath>
<path d="M791.15,254.3L783.95,261.3M796.6,254.3L789.4,261.3M802.05,254.3L794.85,261.3M807.5,254.3L800.3,261.3M812.95,254.3L805.75,261.3M818.4,254.3L811.2,261.3M823.85,254.3L816.65,261.3M829.3,254.3L822.1,261.3M834.75,254.3L827.55,261.3M840.2,254.3L833,261.3M845.65,254.3L838.45,261.3" fill="none" stroke="#161616" stroke-width="1.04" clip-path="url(#hr1)"/>
<line x1="806" y1="254.45" x2="836.4" y2="254.45" stroke="#161616" stroke-width="1.34" />
<line x1="806" y1="261.1" x2="836.4" y2="261.1" stroke="#808080" stroke-width="0.9" />
<clipPath id="hr2"><rect x="889.6" y="254.3" width="171" height="7"/></clipPath>
<path d="M876.65,254.3L869.45,261.3M882.1,254.3L874.9,261.3M887.55,254.3L880.35,261.3M893,254.3L885.8,261.3M898.45,254.3L891.25,261.3M903.9,254.3L896.7,261.3M909.35,254.3L902.15,261.3M914.8,254.3L907.6,261.3M920.25,254.3L913.05,261.3M925.7,254.3L918.5,261.3M931.15,254.3L923.95,261.3M936.6,254.3L929.4,261.3M942.05,254.3L934.85,261.3M947.5,254.3L940.3,261.3M952.95,254.3L945.75,261.3M958.4,254.3L951.2,261.3M963.85,254.3L956.65,261.3M969.3,254.3L962.1,261.3M974.75,254.3L967.55,261.3M980.2,254.3L973,261.3M985.65,254.3L978.45,261.3M991.1,254.3L983.9,261.3M996.55,254.3L989.35,261.3M1002,254.3L994.8,261.3M1007.45,254.3L1000.25,261.3M1012.9,254.3L1005.7,261.3M1018.35,254.3L1011.15,261.3M1023.8,254.3L1016.6,261.3M1029.25,254.3L1022.05,261.3M1034.7,254.3L1027.5,261.3M1040.15,254.3L1032.95,261.3M1045.6,254.3L1038.4,261.3M1051.05,254.3L1043.85,261.3M1056.5,254.3L1049.3,261.3M1061.95,254.3L1054.75,261.3M1067.4,254.3L1060.2,261.3M1072.85,254.3L1065.65,261.3" fill="none" stroke="#161616" stroke-width="1.04" clip-path="url(#hr2)"/>
<line x1="889.6" y1="254.45" x2="1060.6" y2="254.45" stroke="#161616" stroke-width="1.34" />
<line x1="889.6" y1="261.1" x2="1060.6" y2="261.1" stroke="#808080" stroke-width="0.9" />
<rect x="836.4" y="250" width="53.2" height="392" rx="0" fill="#fff" stroke="none" stroke-width="0" />
<rect x="839.6" y="296.2" width="47.4" height="31.2" rx="0" fill="#f0f7fc" stroke="none" stroke-width="0" />
<rect x="839.6" y="327.3" width="47.4" height="302" rx="0" fill="#d8edf9" stroke="none" stroke-width="0" />
<path d="M845.3,633.2Q845.8,629.7 842.7,629.7Q839.7,629.7 839.7,634.2Q839.7,638.7 842.2,637.7Q844.8,636.7 845.3,633.2Z M848.0,638.1Q850.9,639.4 851.4,637.6Q851.8,635.7 851.3,632.7Q850.8,629.7 848.4,629.7Q846.0,629.7 845.5,633.2Q845.0,636.7 848.0,638.1Z M855.2,629.7Q851.0,629.7 851.5,632.7Q852.0,635.7 855.6,635.1Q859.1,634.6 859.3,632.1Q859.4,629.7 855.2,629.7Z M866.9,632.6Q867.0,635.4 866.3,636.6Q865.6,637.8 862.9,637.2Q860.3,636.6 859.8,635.6Q859.4,634.6 859.5,632.1Q859.6,629.7 863.2,629.7Q866.9,629.7 866.9,632.6Z M870.9,635.8Q874.5,636.3 875.6,635.6Q876.6,634.8 876.7,632.3Q876.8,629.7 871.9,629.7Q867.1,629.7 867.1,632.5Q867.2,635.4 870.9,635.8Z M886.9,633.1Q886.9,629.7 881.9,629.7Q877.0,629.7 876.9,632.3Q876.9,634.8 877.9,635.8Q879.0,636.8 882.9,636.6Q886.9,636.4 886.9,633.1Z M845.6,641.6Q839.7,641.6 839.7,640.2Q839.7,638.9 842.3,637.9Q844.9,636.9 847.9,638.2Q850.9,639.5 851.2,640.6Q851.5,641.6 845.6,641.6Z M854.2,641.5Q851.7,641.5 851.4,640.5Q851.1,639.5 851.6,637.7Q852.1,635.8 855.6,635.3Q859.1,634.7 859.6,635.7Q860.1,636.7 858.4,639.1Q856.8,641.5 854.2,641.5Z M862.9,637.4Q860.3,636.8 858.6,639.2Q856.9,641.6 861.7,641.6Q866.4,641.5 866.0,639.8Q865.5,638.0 862.9,637.4Z M873.4,639.0Q872.3,641.5 869.5,641.5Q866.6,641.5 866.2,639.7Q865.7,637.9 866.5,636.7Q867.2,635.6 870.8,636.0Q874.4,636.4 873.4,639.0Z M873.6,639.0Q874.6,636.5 875.7,635.7Q876.7,635.0 877.8,636.0Q878.8,637.0 879.1,639.2Q879.4,641.5 876.0,641.5Q872.5,641.5 873.6,639.0Z M886.9,639.1Q886.9,636.6 883.0,636.8Q879.0,637.0 879.3,639.3Q879.6,641.5 883.3,641.5Q886.9,641.5 886.9,639.1Z" fill="#fff" stroke="#111" stroke-width="0.95" stroke-linejoin="round"/>
<rect x="839.6" y="629.2" width="47.4" height="3.4" rx="0" fill="#777" stroke="none" stroke-width="0" />
<path d="M839.6,630.9H887" fill="none" stroke="#fff" stroke-width="3.66" stroke-dasharray="1.3 1.5" stroke-opacity="0.55"/>
<line x1="839.6" y1="629.45" x2="887" y2="629.45" stroke="#333" stroke-width="0.98" />
<path d="M843.6,622.5H847.49L845.29,627.6H841.4ZM849.89,622.5H853.77L851.57,627.6H847.69ZM856.17,622.5H860.06L857.86,627.6H853.97ZM862.46,622.5H866.34L864.14,627.6H860.26ZM868.74,622.5H872.63L870.43,627.6H866.54ZM875.03,622.5H878.91L876.71,627.6H872.83ZM881.31,622.5H885.2L883,627.6H879.11Z" fill="#e4f2fb" stroke="#161616" stroke-width="0.85" stroke-linejoin="miter"/>
<line x1="837" y1="250" x2="837" y2="642" stroke="#333" stroke-width="0.7" />
<line x1="838.6" y1="252" x2="838.6" y2="642" stroke="#9a9a9a" stroke-width="1.9" />
<line x1="887.2" y1="252" x2="887.2" y2="642" stroke="#2a2a2a" stroke-width="0.9" />
<line x1="889.4" y1="250" x2="889.4" y2="642" stroke="#161616" stroke-width="1.4" />
<path d="M836.4,252V250.4Q836.4,248.8 834.5,248.8H832Q830.8,248.8 830.8,250.2V251.2" fill="#fff" stroke="#161616" stroke-width="1.1" />
<path d="M889.6,252V250.4Q889.6,248.8 891.5,248.8H894Q895.2,248.8 895.2,250.2V251.2" fill="#fff" stroke="#161616" stroke-width="1.1" />
<path d="M824.2,247.8V240Q824.2,237.7 826.4,237.7H899.9Q902.1,237.7 902.1,240V247.8Z" fill="#fff" stroke="#161616" stroke-width="1.22" />
<line x1="824.2" y1="247.45" x2="902.1" y2="247.45" stroke="#161616" stroke-width="1.34" />
<line x1="874.45" y1="250" x2="874.45" y2="353" stroke="#0c0c0c" stroke-width="2.32" />
<line x1="874.45" y1="247" x2="874.45" y2="256" stroke="#161616" stroke-width="0.98" />
<rect x="873" y="255.6" width="2.4" height="8.6" rx="0.6" fill="#fff" stroke="#161616" stroke-width="0.98" />
<circle cx="874.6" cy="244.6" r="0.9" fill="#fff" stroke="#161616" stroke-width="0.73" />
<rect x="860.8" y="221.4" width="8.8" height="26.4" rx="0" fill="#fff" stroke="none" stroke-width="0" />
<line x1="861.45" y1="221.4" x2="861.45" y2="352" stroke="#606060" stroke-width="1.22" />
<line x1="869.45" y1="221.4" x2="869.45" y2="352" stroke="#161616" stroke-width="1.22" />
<rect x="858.45" y="279.45" width="13" height="3" rx="1.2" fill="#fff" stroke="#161616" stroke-width="1.1" />
<path d="M865.2,342.2L868.7,346.4H867.2V349.6H863.2V346.4H861.7Z" fill="#161616" stroke="none" stroke-width="0" />
<rect x="851.2" y="332.3" width="18.6" height="5.2" rx="0" fill="#cfcfcf" stroke="#111" stroke-width="1.28" />
<path d="M834.45,163.45L845.25,163.45Q846.45,163.45 846.45,164.65L846.45,270.45" fill="none" stroke="#161616" stroke-width="1.22" />
<path d="M846.6,270.5L844.6,277.5M846.6,270.5L848.8,277.5" fill="none" stroke="#161616" stroke-width="1.1" />
<line x1="844.45" y1="277.5" x2="844.45" y2="309.4" stroke="#161616" stroke-width="1.1" />
<line x1="848.45" y1="277.5" x2="848.45" y2="342.8" stroke="#161616" stroke-width="1.1" />
<path d="M844.5,309.2L846.4,309.8V317.5A2.05,2.05 0 0 1 842.3,317.5V314.4" fill="none" stroke="#161616" stroke-width="1.16" />
<path d="M848.6,342.6L850.5,343.2V350.5A1.9,1.9 0 0 1 846.7,350.5V347" fill="none" stroke="#161616" stroke-width="1.16" />
<path d="M860.8,218.4C860.8,208 867.5,201.4 877.2,201.4V210C873,210 869.6,213.4 869.6,218.4Z" fill="#fff" stroke="#161616" stroke-width="1.22" />
<rect x="857.45" y="218.45" width="16" height="3" rx="1.4" fill="#fff" stroke="#161616" stroke-width="1.1" />
<rect x="878.4" y="201.4" width="84" height="8.6" rx="0" fill="#fff" stroke="none" stroke-width="0" />
<line x1="878.4" y1="201.45" x2="895.2" y2="201.45" stroke="#161616" stroke-width="1.16" />
<line x1="878.4" y1="210.45" x2="895.2" y2="210.45" stroke="#161616" stroke-width="1.16" />
<path d="M895.2,201.4H913.6M895.2,210H913.6" fill="none" stroke="#161616" stroke-width="1.1" />
<circle cx="904.3" cy="205.7" r="6.6" fill="#fff" stroke="#161616" stroke-width="1.22" />
<rect x="895.2" y="201.9" width="18.4" height="7.6" rx="0" fill="#fff" stroke="none" stroke-width="0" />
<path d="M913.6,201.4H931.8M913.6,210H931.8" fill="none" stroke="#161616" stroke-width="1.1" />
<path d="M919.3,196.9H926.7V209.7Q926.7,213.7 923,213.7Q919.3,213.7 919.3,209.7Z" fill="#fff" stroke="#161616" stroke-width="1.22" />
<path d="M920,196.9L921.7,189.7H924.3L926,196.9" fill="#fff" stroke="#161616" stroke-width="1.1" />
<line x1="920.6" y1="194.45" x2="925.4" y2="194.45" stroke="#161616" stroke-width="0.85" />
<rect x="922.1" y="185.7" width="1.8" height="4" rx="0" fill="#fff" stroke="#161616" stroke-width="0.85" />
<rect x="915.9" y="186.3" width="14.2" height="2.4" rx="1.2" fill="#444" stroke="#161616" stroke-width="1.1" />
<line x1="933.4" y1="201.45" x2="962" y2="201.45" stroke="#161616" stroke-width="1.22" />
<line x1="933.4" y1="210.45" x2="962" y2="210.45" stroke="#161616" stroke-width="1.22" />
<rect x="877.2" y="198" width="2.6" height="15.4" rx="1.1" fill="#fff" stroke="#161616" stroke-width="1.1" />
<rect x="893.9" y="198" width="2.6" height="15.4" rx="1.1" fill="#fff" stroke="#161616" stroke-width="1.1" />
<rect x="911.8" y="198" width="3.6" height="15.4" rx="1" fill="#fff" stroke="#161616" stroke-width="1.1" />
<line x1="913.6" y1="198.5" x2="913.6" y2="212.9" stroke="#161616" stroke-width="0.98" />
<rect x="930" y="198" width="3.6" height="15.4" rx="1" fill="#fff" stroke="#161616" stroke-width="1.1" />
<line x1="931.8" y1="198.5" x2="931.8" y2="212.9" stroke="#161616" stroke-width="0.98" />
<rect x="885.9" y="192.9" width="3.2" height="8.5" rx="0" fill="#fff" stroke="#161616" stroke-width="0.98" />
<rect x="886.6" y="191.9" width="1.8" height="1.4" rx="0" fill="#fff" stroke="#161616" stroke-width="0.85" />
<circle cx="887.5" cy="187.4" r="4.9" fill="#fff" stroke="#161616" stroke-width="1.22" />
<path d="M885.7,189.8L888.5,185.8M887.1,185.5L889.1,185L888.8,187" fill="none" stroke="#161616" stroke-width="0.98" />
<circle cx="887.5" cy="187.4" r="3.3" fill="none" stroke="#161616" stroke-width="0.61" stroke-dasharray="1.2 1.4"/>
<path d="M945.2,204.1H948.44V202.8L952.4,205.7L948.44,208.6V207.3H945.2Z" fill="#161616" stroke="none" stroke-width="0" />
<path d="M965.45,254.4V98C965.45,91.5 983,83.7 999.4,83.7C1015.8,83.7 1033.45,91.5 1033.45,98V222C1033.45,229.5 1016,235.6 999.4,235.6C982.8,235.6 965.45,229.5 965.45,222" fill="#fff" stroke="#161616" stroke-width="1.28" />
<line x1="965.2" y1="98.45" x2="1033.4" y2="98.45" stroke="#444" stroke-width="1.1" />
<line x1="965.2" y1="222.45" x2="1033.4" y2="222.45" stroke="#161616" stroke-width="1.22" />
<path d="M985,234.2L973.4,254.4M1002.2,235.6L1005,234.4M1002.6,235.4L1008.2,254.4" fill="none" stroke="#161616" stroke-width="1.22" />
<rect x="1010.45" y="224.45" width="11" height="30" rx="0" fill="#fff" stroke="#161616" stroke-width="1.22" />
<path d="M996.6,238.6H1001.6M999.1,238.6V242.4" fill="none" stroke="#161616" stroke-width="0.98" />
<circle cx="999.1" cy="240.6" r="1.5" fill="none" stroke="#161616" stroke-width="0.85" />
<rect x="961.9" y="200.2" width="4.9" height="11" rx="0.8" fill="#fff" stroke="#161616" stroke-width="1.1" />
<rect x="1032.2" y="200.2" width="4.9" height="11" rx="0.8" fill="#fff" stroke="#161616" stroke-width="1.1" />
<path d="M1036.6,201.4H1046.6M1036.6,209.4H1046.6" fill="none" stroke="#161616" stroke-width="1.22" />
<path d="M1049.9,202.9H1054.4V200.4L1061,205.9L1054.4,211.4V208.9H1049.9Z" fill="#161616" stroke="none" stroke-width="0" />
<line x1="997.45" y1="86" x2="997.45" y2="167.5" stroke="#161616" stroke-width="1.1" stroke-dasharray="5.4 2"/>
<line x1="1000.45" y1="86" x2="1000.45" y2="189.5" stroke="#161616" stroke-width="1.1" stroke-dasharray="5.4 2"/>
<path d="M1022.8,122V186M1025.6,122V186" fill="none" stroke="#161616" stroke-width="1.1" />
<rect x="1019.45" y="119.45" width="5" height="3" rx="1.2" fill="#fff" stroke="#161616" stroke-width="0.98" />
<circle cx="1027.4" cy="121.4" r="2.7" fill="#fff" stroke="#161616" stroke-width="0.98" />
<rect x="1019.45" y="184.45" width="5" height="3" rx="1.2" fill="#fff" stroke="#161616" stroke-width="0.98" />
<circle cx="1027.4" cy="185.9" r="2.7" fill="#fff" stroke="#161616" stroke-width="0.98" />
<path d="M973.3,180V186.8H979.6V184.2H976V180" fill="#fff" stroke="#161616" stroke-width="0.98" />
<circle cx="974.7" cy="175" r="5.2" fill="#fff" stroke="#161616" stroke-width="1.22" />
<path d="M972.5,177.6L975.9,172.8" fill="none" stroke="#161616" stroke-width="1.1" />
<circle cx="974.7" cy="175" r="3.6" fill="none" stroke="#161616" stroke-width="0.61" stroke-dasharray="1.2 1.4"/>
<path d="M974.6,88.6Q976.8,85 979.8,86.6" fill="none" stroke="#161616" stroke-width="0.98" />
<rect x="997.45" y="65.45" width="5" height="4" rx="0" fill="#fff" stroke="#161616" stroke-width="0.98" />
<line x1="997.2" y1="67.45" x2="1002.2" y2="67.45" stroke="#161616" stroke-width="0.73" />
<rect x="996.45" y="69.45" width="7" height="3" rx="0" fill="#fff" stroke="#161616" stroke-width="0.98" />
<path d="M997.4,72.8V84.6M1001.8,72.8V84.6" fill="none" stroke="#161616" stroke-width="1.1" />
<rect x="993.45" y="73.45" width="13" height="6" rx="2.4" fill="#fff" stroke="#161616" stroke-width="1.1" />
<path d="M1006,76.4H1008.4V69.6Q1008.4,68.4 1007.4,68.4Q1006.4,68.4 1006.4,69.6V73.6" fill="none" stroke="#161616" stroke-width="1.1" />
<path d="M993.2,75.2H991.2Q989.6,75.2 989.6,77V79.6Q989.6,81 991,81" fill="none" stroke="#161616" stroke-width="1.1" />
<rect x="997.4" y="73.2" width="4.4" height="11.6" rx="0" fill="#fff" stroke="none" stroke-width="0" />
<path d="M997.4,79.2V84.8M1001.8,79.2V84.8M996.4,73.6H1002.8" fill="none" stroke="#161616" stroke-width="1.1" />
<path d="M834.45,124.45L854.25,124.45Q855.45,124.45 855.45,123.25L855.45,63.65Q855.45,62.45 856.65,62.45L998.25,62.45Q999.45,62.45 999.45,63.65L999.45,66.45" fill="none" stroke="#161616" stroke-width="1.22" />
<path d="M834.45,134.45L916.25,134.45Q917.45,134.45 917.45,133.25L917.45,122.45" fill="none" stroke="#161616" stroke-width="1.22" />
<path d="M917.45,96.45L917.45,82.65Q917.45,81.45 918.65,81.45L990.45,81.45" fill="none" stroke="#161616" stroke-width="1.22" />
<path d="M834.45,144.45L940.25,144.45Q941.45,144.45 941.45,145.65L941.45,188.25Q941.45,189.45 942.65,189.45L953.45,189.45" fill="none" stroke="#161616" stroke-width="1.22" />
<rect x="903.45" y="96.45" width="29" height="26" rx="1.6" fill="#fff" stroke="#3a3a3a" stroke-width="1.22" />
<rect x="952.3" y="180.4" width="9.4" height="12.2" rx="2.8" fill="#fff" stroke="#161616" stroke-width="1.1" />
<rect x="961.45" y="184.45" width="4" height="4" rx="0" fill="#fff" stroke="#161616" stroke-width="0.98" />
<circle cx="957.6" cy="188.6" r="1.7" fill="#fff" stroke="#161616" stroke-width="0.98" />
<path d="M834.6,156.1H850.5Q852.6,156.1 852.6,158.2V180M852.6,184.4V357" fill="none" stroke="#0d69b6" stroke-width="1.9" />
<rect x="796.45" y="116.45" width="38" height="53" rx="2.4" fill="#fff" stroke="#161616" stroke-width="1.28" />
<line x1="799" y1="118.1" x2="831.8" y2="118.1" stroke="#777" stroke-width="0.9" />
<line x1="799" y1="167.9" x2="831.8" y2="167.9" stroke="#777" stroke-width="0.9" />
<circle cx="798.3" cy="118.3" r="1.1" fill="#fff" stroke="#161616" stroke-width="0.6" />
<circle cx="832.9" cy="118.3" r="1.1" fill="#fff" stroke="#161616" stroke-width="0.6" />
<circle cx="798.3" cy="167.9" r="1.1" fill="#fff" stroke="#161616" stroke-width="0.6" />
<circle cx="832.9" cy="167.9" r="1.1" fill="#fff" stroke="#161616" stroke-width="0.6" />
<circle cx="802.5" cy="123.3" r="1.7" fill="#161616" stroke="none" stroke-width="0" />
<text x="805.6" y="125.4" font-size="7" font-weight="bold" fill="#1a1a1a" text-anchor="start" textLength="24.6" lengthAdjust="spacingAndGlyphs" font-style="italic" stroke="#1a1a1a" stroke-width="0.35">pedrollo</text>
<text x="815.6" y="127.7" font-size="2.4" font-weight="bold" fill="#222" text-anchor="start" textLength="13.4" lengthAdjust="spacingAndGlyphs" >QES 1Mono</text>
<rect x="808.1" y="137.2" width="14.7" height="14.4" rx="1.6" fill="#fff" stroke="#161616" stroke-width="1.16" />
<circle cx="815.4" cy="144.7" r="3.5" fill="#fff" stroke="#161616" stroke-width="1.16" />
<path d="M814.2,144Q815.4,142.6 816.6,144L816.6,152.2L815.4,153.8L814.2,152.2Z" fill="#fff" stroke="#161616" stroke-width="1.04" />
<circle cx="808.8" cy="158.2" r="1.6" fill="#fff" stroke="#161616" stroke-width="1.16" />
<circle cx="821.8" cy="158.2" r="1.6" fill="#fff" stroke="#161616" stroke-width="1.16" />
<rect x="851.1" y="359.7" width="2.7" height="150.5" rx="0" fill="#0c0c0c" stroke="none" stroke-width="0" />
<line x1="858.7" y1="351.45" x2="873.2" y2="351.45" stroke="#161616" stroke-width="1.34" />
<rect x="851.45" y="352.45" width="25" height="5" rx="1.6" fill="url(#pgh)" stroke="#161616" stroke-width="0.98" />
<circle cx="853.2" cy="355.2" r="0.7" fill="#fff" stroke="#161616" stroke-width="0.61" />
<circle cx="874.8" cy="355.2" r="0.7" fill="#fff" stroke="#161616" stroke-width="0.61" />
<rect x="851.4" y="357.4" width="25.2" height="7" rx="0" fill="#111" stroke="none" stroke-width="0" />
<path d="M852.8,362.6L853.8,359.2H855.2L854.4,362.6ZM855.6,362.6L856.6,359.2H858L857.2,362.6ZM858.4,362.6L859.4,359.2H860.8L860,362.6ZM861.2,362.6L862.2,359.2H863.6L862.8,362.6ZM864,362.6L865,359.2H866.4L865.6,362.6ZM866.8,362.6L867.8,359.2H869.2L868.4,362.6ZM869.6,362.6L870.6,359.2H872L871.2,362.6ZM872.4,362.6L873.4,359.2H874.8L874,362.6Z" fill="#ececec" stroke="none" stroke-width="0" />
<rect x="851.9" y="363.5" width="24.2" height="1.5" rx="0" fill="#f6f6f6" stroke="none" stroke-width="0" />
<rect x="853.4" y="365" width="23.6" height="5.8" rx="0" fill="#0e0e0e" stroke="none" stroke-width="0" />
<line x1="855.8" y1="366.6" x2="869.6" y2="366.6" stroke="#6a6a6a" stroke-width="0.5" />
<line x1="854.8" y1="368.4" x2="864.6" y2="368.4" stroke="#555" stroke-width="0.5" />
<rect x="853.45" y="370.45" width="23" height="125" rx="0" fill="url(#pg)" stroke="#161616" stroke-width="1.1" />
<rect x="851.1" y="495.4" width="25.5" height="15.2" rx="0" fill="#0c0c0c" stroke="none" stroke-width="0" />
<rect x="861.8" y="499" width="7.2" height="10.8" rx="0" fill="url(#pgs)" stroke="none" stroke-width="0" />
<line x1="864.6" y1="499" x2="864.6" y2="509.8" stroke="#9a9a9a" stroke-width="0.5" />
<rect x="852.45" y="510.45" width="24" height="92" rx="0" fill="url(#pg)" stroke="#161616" stroke-width="1.1" />
<line x1="852.9" y1="512.2" x2="876.8" y2="512.2" stroke="#161616" stroke-width="0.92" />
<line x1="852.9" y1="525.2" x2="876.8" y2="525.2" stroke="#161616" stroke-width="0.92" />
<line x1="852.9" y1="527.4" x2="876.8" y2="527.4" stroke="#161616" stroke-width="0.92" />
<line x1="852.9" y1="573.2" x2="876.8" y2="573.2" stroke="#161616" stroke-width="0.92" />
<line x1="852.9" y1="575.4" x2="876.8" y2="575.4" stroke="#161616" stroke-width="0.92" />
<line x1="852.9" y1="599.6" x2="876.8" y2="599.6" stroke="#161616" stroke-width="0.92" />
<line x1="852.9" y1="601.6" x2="876.8" y2="601.6" stroke="#161616" stroke-width="0.92" />
<clipPath id="pgc853"><rect x="853.3" y="576.6" width="23.1" height="22"/></clipPath>
<rect x="855.7" y="577.9" width="2.8" height="19.2" rx="1.4" fill="#ededed" stroke="#161616" stroke-width="1.16" clip-path="url(#pgc853)"/>
<rect x="861.7" y="577.9" width="2.8" height="19.2" rx="1.4" fill="#ededed" stroke="#161616" stroke-width="1.16" clip-path="url(#pgc853)"/>
<rect x="867.7" y="577.9" width="2.8" height="19.2" rx="1.4" fill="#ededed" stroke="#161616" stroke-width="1.16" clip-path="url(#pgc853)"/>
<rect x="873.7" y="577.9" width="2.8" height="19.2" rx="1.4" fill="#ededed" stroke="#161616" stroke-width="1.16" clip-path="url(#pgc853)"/>
<rect x="875" y="577.2" width="1.5" height="21" rx="0" fill="#111" stroke="none" stroke-width="0" />
<g transform="translate(865.6,376.9)" fill="#1e3486"><path d="M3.4,0C-1.4,2.2-6.6,6.6-6.9,12.6C-6.9,14.8-6.3,16.6-5.4,17.8C-4.6,12.4 0.4,8.6 3.6,7C4.6,4.6 4.3,1.8 3.4,0Z"/><path d="M5.4,8.4C0.8,10.8-5.4,15.8-6.7,22.2C-6.9,24.6-6.4,26.8-5.6,28.2C-3.6,21.6 2.5,17.4 6.6,15.4C6.9,13 6.4,10.4 5.4,8.4Z"/><path d="M6.6,17.2C2,19.6-4.8,24.8-6.2,31.2C-6.2,32.8-5.8,34.2-5.2,35.4C-3.2,29 2.5,24.8 6.4,22.8C6.8,20.8 6.8,18.8 6.6,17.2Z"/><path d="M6.3,24.6C2.5,26.6-3.6,30.8-5.1,36.8C-4.8,39.4-4,41-3,42.4C-3.4,38-0.5,33 5.4,29.6C6,27.8 6.3,26.2 6.3,24.6Z"/><path d="M2.2,4.4l0.9,-1.5l0.9,1.5l-0.9,1.5Z" fill="#e2222b" stroke="#e2222b" stroke-width="0.5"/></g>
<text x="865.5" y="426.8" font-size="6.6" font-weight="bold" fill="#dc1f2a" text-anchor="middle" textLength="19.8" lengthAdjust="spacingAndGlyphs" font-style="italic" stroke="#dc1f2a" stroke-width="0.45">4SR F</text>
<rect x="855.5" y="427.2" width="20.6" height="3.1" rx="0" fill="#24408f" stroke="none" stroke-width="0" />
<text x="865.8" y="429.5" font-size="2" font-weight="normal" fill="#c9d3ee" text-anchor="middle" textLength="17.4" lengthAdjust="spacingAndGlyphs" >ELETTROPOMPE</text>
<circle cx="857.9" cy="433.8" r="1" fill="#dc1f2a" stroke="none" stroke-width="0" />
<text x="866.9" y="436.1" font-size="5.2" font-weight="bold" fill="#24408f" text-anchor="middle" textLength="15" lengthAdjust="spacingAndGlyphs" font-style="italic" stroke="#24408f" stroke-width="0.2">pedrollo</text>
<path d="M841.9,481.6L846.6,478L849.1,477.9L848.7,482.3L847.1,482.6L845.4,485Z" fill="#161616" stroke="#161616" stroke-width="0.6" stroke-linejoin="round"/>
<path d="M885.6,481.6L880.9,478L878.4,477.9L878.8,482.3L880.4,482.6L882.1,485Z" fill="#161616" stroke="#161616" stroke-width="0.6" stroke-linejoin="round"/>
<line x1="839.6" y1="296.45" x2="929.6" y2="296.45" stroke="#161616" stroke-width="1.71" />
<path d="M935.8,296.45L929,294.2V298.7Z" fill="#161616" stroke="none" stroke-width="0" />
<line x1="802.4" y1="327.45" x2="929.6" y2="327.45" stroke="#161616" stroke-width="1.71" />
<path d="M935.8,327.45L929,325.2V329.7Z" fill="#161616" stroke="none" stroke-width="0" />
<text x="943.8" y="300.9" font-size="12.6" font-weight="bold" fill="#111" text-anchor="start" textLength="57.8" lengthAdjust="spacingAndGlyphs" stroke="#141414" stroke-width="0.5" stroke-linejoin="round">STATIC LEVEL</text>
<text x="943.8" y="331.4" font-size="12.6" font-weight="bold" fill="#111" text-anchor="start" textLength="70.6" lengthAdjust="spacingAndGlyphs" stroke="#141414" stroke-width="0.5" stroke-linejoin="round">DYNAMIC LEVEL</text>
<line x1="802.4" y1="350.45" x2="854.6" y2="350.45" stroke="#161616" stroke-width="1.1" />
<line x1="802.4" y1="602.45" x2="850" y2="602.45" stroke="#161616" stroke-width="1.1" />
<line x1="802.4" y1="629.45" x2="838" y2="629.45" stroke="#161616" stroke-width="1.1" />
<line x1="805.45" y1="327.3" x2="805.45" y2="350.7" stroke="#161616" stroke-width="1.1" />
<line x1="805.45" y1="311.8" x2="805.45" y2="321.3" stroke="#161616" stroke-width="1.1" />
<path d="M803.15,316.3L807.75,316.3L805.45,327.3Z" fill="#161616" stroke="none" stroke-width="0" />
<line x1="805.45" y1="429.7" x2="805.45" y2="356.7" stroke="#161616" stroke-width="1.1" />
<path d="M803.15,361.7L807.75,361.7L805.45,350.7Z" fill="#161616" stroke="none" stroke-width="0" />
<line x1="805.45" y1="539.4" x2="805.45" y2="596.4" stroke="#161616" stroke-width="1.1" />
<path d="M803.15,591.4L807.75,591.4L805.45,602.4Z" fill="#161616" stroke="none" stroke-width="0" />
<line x1="805.45" y1="602.4" x2="805.45" y2="629.2" stroke="#161616" stroke-width="1.1" />
<line x1="805.45" y1="645.2" x2="805.45" y2="635.2" stroke="#161616" stroke-width="1.1" />
<path d="M803.15,640.2L807.75,640.2L805.45,629.2Z" fill="#161616" stroke="none" stroke-width="0" />
<text transform="translate(801.9,396.2) rotate(-90)" font-size="12.5" font-weight="bold" fill="#141414" stroke="#141414" stroke-width="0.3" word-spacing="-0.5" text-anchor="middle" textLength="61.5" lengthAdjust="spacingAndGlyphs">min. 50 cm</text>
<text transform="translate(801.9,562.3) rotate(-90)" font-size="12.5" font-weight="bold" fill="#141414" stroke="#141414" stroke-width="0.3" word-spacing="-0.5" text-anchor="middle" textLength="49.4" lengthAdjust="spacingAndGlyphs">min. 1 m</text>
<line x1="773.7" y1="119.4" x2="805.8" y2="135.2" stroke="#fff" stroke-width="2.2" stroke-opacity="0.6"/>
<line x1="773.7" y1="119.4" x2="805.8" y2="135.2" stroke="#8e8e8e" stroke-width="1.05" />
<circle cx="805.8" cy="135.2" r="1.9" fill="#fff" stroke="none" stroke-width="0" fill-opacity="0.7"/>
<circle cx="805.8" cy="135.2" r="1.3" fill="#b4b4b4" stroke="#909090" stroke-width="0.5" />
<line x1="887.4" y1="112" x2="907.6" y2="107.9" stroke="#fff" stroke-width="2.2" stroke-opacity="0.6"/>
<line x1="887.4" y1="112" x2="907.6" y2="107.9" stroke="#8e8e8e" stroke-width="1.05" />
<circle cx="907.6" cy="107.9" r="1.9" fill="#fff" stroke="none" stroke-width="0" fill-opacity="0.7"/>
<circle cx="907.6" cy="107.9" r="1.3" fill="#b4b4b4" stroke="#909090" stroke-width="0.5" />
<line x1="951.8" y1="133.9" x2="956.5" y2="183.5" stroke="#fff" stroke-width="2.2" stroke-opacity="0.6"/>
<line x1="951.8" y1="133.9" x2="956.5" y2="183.5" stroke="#8e8e8e" stroke-width="1.05" />
<circle cx="956.5" cy="183.5" r="1.9" fill="#fff" stroke="none" stroke-width="0" fill-opacity="0.7"/>
<circle cx="956.5" cy="183.5" r="1.3" fill="#b4b4b4" stroke="#909090" stroke-width="0.5" />
<line x1="1057" y1="117" x2="1017.2" y2="112" stroke="#fff" stroke-width="2.2" stroke-opacity="0.6"/>
<line x1="1057" y1="117" x2="1017.2" y2="112" stroke="#8e8e8e" stroke-width="1.05" />
<circle cx="1017.2" cy="112" r="1.9" fill="#fff" stroke="none" stroke-width="0" fill-opacity="0.7"/>
<circle cx="1017.2" cy="112" r="1.3" fill="#b4b4b4" stroke="#909090" stroke-width="0.5" />
<line x1="867.5" y1="171.7" x2="853" y2="182.4" stroke="#fff" stroke-width="2.2" stroke-opacity="0.6"/>
<line x1="867.5" y1="171.7" x2="853" y2="182.4" stroke="#8e8e8e" stroke-width="1.05" />
<circle cx="853" cy="182.4" r="1.9" fill="#fff" stroke="none" stroke-width="0" fill-opacity="0.7"/>
<circle cx="853" cy="182.4" r="1.3" fill="#b4b4b4" stroke="#909090" stroke-width="0.5" />
<line x1="903.6" y1="171.7" x2="890.8" y2="185.8" stroke="#fff" stroke-width="2.2" stroke-opacity="0.6"/>
<line x1="903.6" y1="171.7" x2="890.8" y2="185.8" stroke="#8e8e8e" stroke-width="1.05" />
<circle cx="890.8" cy="185.8" r="1.9" fill="#fff" stroke="none" stroke-width="0" fill-opacity="0.7"/>
<circle cx="890.8" cy="185.8" r="1.3" fill="#b4b4b4" stroke="#909090" stroke-width="0.5" />
<line x1="809.8" y1="213.8" x2="873.2" y2="248.5" stroke="#fff" stroke-width="2.2" stroke-opacity="0.6"/>
<line x1="809.8" y1="213.8" x2="873.2" y2="248.5" stroke="#8e8e8e" stroke-width="1.05" />
<circle cx="873.2" cy="248.5" r="1.9" fill="#fff" stroke="none" stroke-width="0" fill-opacity="0.7"/>
<circle cx="873.2" cy="248.5" r="1.3" fill="#b4b4b4" stroke="#909090" stroke-width="0.5" />
<line x1="912.7" y1="231.7" x2="904.2" y2="212.1" stroke="#fff" stroke-width="2.2" stroke-opacity="0.6"/>
<line x1="912.7" y1="231.7" x2="904.2" y2="212.1" stroke="#8e8e8e" stroke-width="1.05" />
<circle cx="904.2" cy="212.1" r="1.9" fill="#fff" stroke="none" stroke-width="0" fill-opacity="0.7"/>
<circle cx="904.2" cy="212.1" r="1.3" fill="#b4b4b4" stroke="#909090" stroke-width="0.5" />
<line x1="941.3" y1="234" x2="923.8" y2="211.1" stroke="#fff" stroke-width="2.2" stroke-opacity="0.6"/>
<line x1="941.3" y1="234" x2="923.8" y2="211.1" stroke="#8e8e8e" stroke-width="1.05" />
<circle cx="923.8" cy="211.1" r="1.9" fill="#fff" stroke="none" stroke-width="0" fill-opacity="0.7"/>
<circle cx="923.8" cy="211.1" r="1.3" fill="#b4b4b4" stroke="#909090" stroke-width="0.5" />
<line x1="773.2" y1="276" x2="841.4" y2="311.1" stroke="#fff" stroke-width="2.2" stroke-opacity="0.6"/>
<line x1="773.2" y1="276" x2="841.4" y2="311.1" stroke="#8e8e8e" stroke-width="1.05" />
<circle cx="841.4" cy="311.1" r="1.9" fill="#fff" stroke="none" stroke-width="0" fill-opacity="0.7"/>
<circle cx="841.4" cy="311.1" r="1.3" fill="#b4b4b4" stroke="#909090" stroke-width="0.5" />
<line x1="773.2" y1="276" x2="844.2" y2="343.9" stroke="#fff" stroke-width="2.2" stroke-opacity="0.6"/>
<line x1="773.2" y1="276" x2="844.2" y2="343.9" stroke="#8e8e8e" stroke-width="1.05" />
<circle cx="844.2" cy="343.9" r="1.9" fill="#fff" stroke="none" stroke-width="0" fill-opacity="0.7"/>
<circle cx="844.2" cy="343.9" r="1.3" fill="#b4b4b4" stroke="#909090" stroke-width="0.5" />
<line x1="938.2" y1="363" x2="864.5" y2="332.8" stroke="#fff" stroke-width="2.2" stroke-opacity="0.6"/>
<line x1="938.2" y1="363" x2="864.5" y2="332.8" stroke="#8e8e8e" stroke-width="1.05" />
<circle cx="864.5" cy="332.8" r="1.9" fill="#fff" stroke="none" stroke-width="0" fill-opacity="0.7"/>
<circle cx="864.5" cy="332.8" r="1.3" fill="#b4b4b4" stroke="#909090" stroke-width="0.5" />
<line x1="941.7" y1="459.2" x2="873" y2="468.9" stroke="#fff" stroke-width="2.2" stroke-opacity="0.6"/>
<line x1="941.7" y1="459.2" x2="873" y2="468.9" stroke="#8e8e8e" stroke-width="1.05" />
<circle cx="873" cy="468.9" r="1.9" fill="#fff" stroke="none" stroke-width="0" fill-opacity="0.7"/>
<circle cx="873" cy="468.9" r="1.3" fill="#b4b4b4" stroke="#909090" stroke-width="0.5" />
<text x="762.9" y="116.7" font-size="12.3" font-weight="bold" fill="#141414" text-anchor="middle" >9</text>
<text x="875.9" y="116.7" font-size="12.3" font-weight="bold" fill="#141414" text-anchor="middle" >12</text>
<text x="949.1" y="125.3" font-size="12.3" font-weight="bold" fill="#141414" text-anchor="middle" >11</text>
<text x="1068.2" y="120.6" font-size="12.3" font-weight="bold" fill="#141414" text-anchor="middle" >10</text>
<text x="874.9" y="164.8" font-size="12.3" font-weight="bold" fill="#141414" text-anchor="middle" >8</text>
<text x="909.6" y="164.8" font-size="12.3" font-weight="bold" fill="#141414" text-anchor="middle" >5</text>
<text x="799" y="210.6" font-size="12.3" font-weight="bold" fill="#141414" text-anchor="middle" >4</text>
<text x="916" y="246.1" font-size="12.3" font-weight="bold" fill="#141414" text-anchor="middle" >6</text>
<text x="948.4" y="246.1" font-size="12.3" font-weight="bold" fill="#141414" text-anchor="middle" >7</text>
<text x="762.9" y="272.7" font-size="12.3" font-weight="bold" fill="#141414" text-anchor="middle" >3</text>
<text x="948.9" y="370.1" font-size="12.3" font-weight="bold" fill="#141414" text-anchor="middle" >2</text>
<text x="948.4" y="460.7" font-size="12.3" font-weight="bold" fill="#141414" text-anchor="middle" >1</text>
</g>
</svg>
<h1 class="t" id="h1" style="left:49.30px;top:53.07px;font-size:22.9px;line-height:26px;transform:scaleX(0.8710)">СТАНДАРТНАЯ УСТАНОВКА</h1>
<ol>
<li><span class="t" id="n0" style="left:50.40px;top:108.14px;font-size:16.9px;transform:scaleX(0.9300)">1)</span><span class="t" id="x0" style="left:76.39px;top:107.14px;font-size:16.9px;transform:scaleX(1.0017)">Скважинный насос</span></li>
<li><span class="t" id="n1" style="left:50.00px;top:139.14px;font-size:16.9px;transform:scaleX(0.9300)">2)</span><span class="t" id="x1" style="left:76.19px;top:139.14px;font-size:16.9px;transform:scaleX(0.9978)">Хомуты крепления кабеля электропитания</span></li>
<li><span class="t" id="n2" style="left:50.00px;top:170.14px;font-size:16.9px;transform:scaleX(0.9300)">3)</span><span class="t" id="x2" style="left:76.60px;top:170.14px;font-size:16.9px;transform:scaleX(1.0046)">Датчики контроля уровня, защита от работы в сухую</span></li>
<li><span class="t" id="n3" style="left:50.00px;top:202.14px;font-size:16.9px;transform:scaleX(0.9300)">4)</span><span class="t" id="x3" style="left:76.96px;top:202.14px;font-size:16.9px;transform:scaleX(1.0158)">Анкеровка крепления тросов</span></li>
<li><span class="t" id="n4" style="left:50.00px;top:233.14px;font-size:16.9px;transform:scaleX(0.9300)">5)</span><span class="t" id="x4" style="left:76.93px;top:233.14px;font-size:16.9px;transform:scaleX(1.0036)">Манометр</span></li>
<li><span class="t" id="n5" style="left:50.00px;top:265.14px;font-size:16.9px;transform:scaleX(0.9300)">6)</span><span class="t" id="x5" style="left:76.32px;top:265.14px;font-size:16.9px;transform:scaleX(0.9915)">Обратный кабель</span></li>
<li><span class="t" id="n6" style="left:50.00px;top:296.14px;font-size:16.9px;transform:scaleX(0.9300)">7)</span><span class="t" id="x6" style="left:76.41px;top:296.14px;font-size:16.9px;transform:scaleX(0.9968)">Заслонка регулировки расхода</span></li>
<li><span class="t" id="n7" style="left:50.00px;top:328.14px;font-size:16.9px;transform:scaleX(0.9300)">8)</span><span class="t" id="x7" style="left:76.86px;top:328.14px;font-size:16.9px;transform:scaleX(0.9951)">Кабель электропитания</span></li>
<li><span class="t" id="n8" style="left:50.00px;top:359.14px;font-size:16.9px;transform:scaleX(0.9300)">9)</span><span class="t" id="x8" style="left:76.89px;top:359.14px;font-size:16.9px;transform:scaleX(0.9994)">Пульт управления</span></li>
<li><span class="t" id="n9" style="left:50.60px;top:391.14px;font-size:16.9px;transform:scaleX(0.9000)">10)</span><span class="t" id="x9" style="left:76.42px;top:391.14px;font-size:16.9px;transform:scaleX(0.9874)">Емкость системы поддержания давления</span></li>
<li><span class="t" id="n10" style="left:50.60px;top:422.14px;font-size:16.9px;transform:scaleX(0.8100)">11)</span><span class="t" id="x10" style="left:73.00px;top:422.14px;font-size:16.9px;transform:scaleX(0.9674)">Реле давления</span></li>
<li><span class="t" id="n11" style="left:50.60px;top:454.14px;font-size:16.9px;transform:scaleX(0.8900)">12)</span><span class="t" id="x11" style="left:75.61px;top:454.14px;font-size:16.9px;transform:scaleX(1.0191)">Электроклапан / Электрокомпрессор</span></li>
</ol>
<p style="margin:0">
<span class="t" id="pa" style="left:64.05px;top:690.68px;font-size:19.4px;font-family:'DejaVu Sans',sans-serif;letter-spacing:0;transform:scaleX(1.0375)">&#10143;</span>
<span class="t" id="p0" style="left:83.70px;top:690.18px;font-size:16.8px;transform:scaleX(0.9967)">Насосы серии <b>4SR</b> должны быть установлены в скважинах диаметром не менее 4&quot; (100 мм). Насос должен быть опущен в скважину с</span>
<span class="t" id="p1" style="left:63.62px;top:711.18px;font-size:16.8px;transform:scaleX(1.0152)">помощью нагнетательного трубопровода на такую глубину (минимум 50 см и не менее одного м), чтобы он полностью погрузился во</span>
<span class="t" id="p2" style="left:63.63px;top:732.18px;font-size:16.8px;transform:scaleX(1.0112)">время работы, когда уровень воды в скважине может снизиться. Рекомендуется закрепить насос, прикрепив кабель из нержавеющей</span>
<span class="t" id="p3" style="left:63.91px;top:753.18px;font-size:16.8px;transform:scaleX(1.0072)">стали к точкам крепления, имеющимся на нагнетательном корпусе.</span>
</p>
</body>
</html>
